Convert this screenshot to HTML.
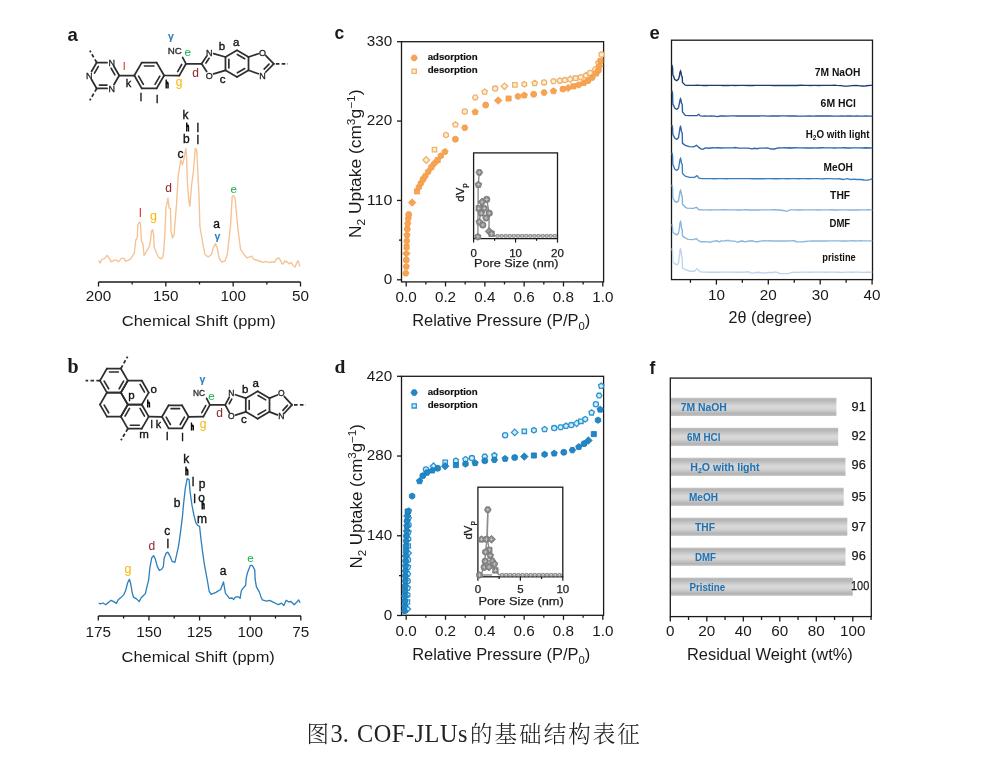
<!DOCTYPE html>
<html><head><meta charset="utf-8"><title>COF-JLUs</title>
<style>html,body{margin:0;padding:0;background:#fff;}body{width:1006px;height:784px;overflow:hidden;}svg{display:block;filter:blur(0.3px);}</style>
</head><body>
<svg width="1006" height="784" viewBox="0 0 1006 784"><text x="67.5" y="40.5" font-size="18.5" text-anchor="start" fill="#1a1a1a" font-weight="bold" font-family="'Liberation Sans', Arial, sans-serif">a</text>
<text x="67.5" y="372.5" font-size="20" text-anchor="start" fill="#1a1a1a" font-weight="bold" font-family="'Liberation Serif', 'Times New Roman', serif">b</text>
<text x="334.5" y="38.9" font-size="17.5" text-anchor="start" fill="#1a1a1a" font-weight="bold" font-family="'Liberation Sans', Arial, sans-serif">c</text>
<text x="334.5" y="372.5" font-size="19.5" text-anchor="start" fill="#1a1a1a" font-weight="bold" font-family="'Liberation Serif', 'Times New Roman', serif">d</text>
<text x="649.5" y="39.1" font-size="18.5" text-anchor="start" fill="#1a1a1a" font-weight="bold" font-family="'Liberation Sans', Arial, sans-serif">e</text>
<text x="649.5" y="374.1" font-size="17.5" text-anchor="start" fill="#1a1a1a" font-weight="bold" font-family="'Liberation Sans', Arial, sans-serif">f</text>
<line x1="98.5" y1="282" x2="300.5" y2="282" stroke="#1a1a1a" stroke-width="1.3"/>
<line x1="98.5" y1="282" x2="98.5" y2="286.5" stroke="#1a1a1a" stroke-width="1.3"/>
<line x1="165.83" y1="282" x2="165.83" y2="286.5" stroke="#1a1a1a" stroke-width="1.3"/>
<line x1="233.17" y1="282" x2="233.17" y2="286.5" stroke="#1a1a1a" stroke-width="1.3"/>
<line x1="300.5" y1="282" x2="300.5" y2="286.5" stroke="#1a1a1a" stroke-width="1.3"/>
<line x1="132.17" y1="282" x2="132.17" y2="284.5" stroke="#1a1a1a" stroke-width="1.3"/>
<line x1="199.5" y1="282" x2="199.5" y2="284.5" stroke="#1a1a1a" stroke-width="1.3"/>
<line x1="266.84" y1="282" x2="266.84" y2="284.5" stroke="#1a1a1a" stroke-width="1.3"/>
<text x="98.5" y="300.5" font-size="14" text-anchor="middle" fill="#1a1a1a" font-weight="normal" font-family="'Liberation Sans', Arial, sans-serif" textLength="25.44" lengthAdjust="spacingAndGlyphs">200</text>
<text x="165.83" y="300.5" font-size="14" text-anchor="middle" fill="#1a1a1a" font-weight="normal" font-family="'Liberation Sans', Arial, sans-serif" textLength="25.44" lengthAdjust="spacingAndGlyphs">150</text>
<text x="233.17" y="300.5" font-size="14" text-anchor="middle" fill="#1a1a1a" font-weight="normal" font-family="'Liberation Sans', Arial, sans-serif" textLength="25.44" lengthAdjust="spacingAndGlyphs">100</text>
<text x="300.5" y="300.5" font-size="14" text-anchor="middle" fill="#1a1a1a" font-weight="normal" font-family="'Liberation Sans', Arial, sans-serif" textLength="16.96" lengthAdjust="spacingAndGlyphs">50</text>
<text x="198.75" y="326" font-size="15.5" text-anchor="middle" fill="#1a1a1a" font-weight="normal" font-family="'Liberation Sans', Arial, sans-serif" textLength="153.9" lengthAdjust="spacingAndGlyphs">Chemical Shift (ppm)</text>
<line x1="98.3" y1="616" x2="301" y2="616" stroke="#1a1a1a" stroke-width="1.3"/>
<line x1="98.3" y1="616" x2="98.3" y2="620.5" stroke="#1a1a1a" stroke-width="1.3"/>
<line x1="148.93" y1="616" x2="148.93" y2="620.5" stroke="#1a1a1a" stroke-width="1.3"/>
<line x1="199.55" y1="616" x2="199.55" y2="620.5" stroke="#1a1a1a" stroke-width="1.3"/>
<line x1="250.18" y1="616" x2="250.18" y2="620.5" stroke="#1a1a1a" stroke-width="1.3"/>
<line x1="300.8" y1="616" x2="300.8" y2="620.5" stroke="#1a1a1a" stroke-width="1.3"/>
<line x1="123.61" y1="616" x2="123.61" y2="618.5" stroke="#1a1a1a" stroke-width="1.3"/>
<line x1="174.24" y1="616" x2="174.24" y2="618.5" stroke="#1a1a1a" stroke-width="1.3"/>
<line x1="224.86" y1="616" x2="224.86" y2="618.5" stroke="#1a1a1a" stroke-width="1.3"/>
<line x1="275.49" y1="616" x2="275.49" y2="618.5" stroke="#1a1a1a" stroke-width="1.3"/>
<text x="98.3" y="636.6" font-size="14" text-anchor="middle" fill="#1a1a1a" font-weight="normal" font-family="'Liberation Sans', Arial, sans-serif" textLength="25.44" lengthAdjust="spacingAndGlyphs">175</text>
<text x="148.93" y="636.6" font-size="14" text-anchor="middle" fill="#1a1a1a" font-weight="normal" font-family="'Liberation Sans', Arial, sans-serif" textLength="25.44" lengthAdjust="spacingAndGlyphs">150</text>
<text x="199.55" y="636.6" font-size="14" text-anchor="middle" fill="#1a1a1a" font-weight="normal" font-family="'Liberation Sans', Arial, sans-serif" textLength="25.44" lengthAdjust="spacingAndGlyphs">125</text>
<text x="250.18" y="636.6" font-size="14" text-anchor="middle" fill="#1a1a1a" font-weight="normal" font-family="'Liberation Sans', Arial, sans-serif" textLength="25.44" lengthAdjust="spacingAndGlyphs">100</text>
<text x="300.8" y="636.6" font-size="14" text-anchor="middle" fill="#1a1a1a" font-weight="normal" font-family="'Liberation Sans', Arial, sans-serif" textLength="16.96" lengthAdjust="spacingAndGlyphs">75</text>
<text x="198.2" y="662.2" font-size="15.5" text-anchor="middle" fill="#1a1a1a" font-weight="normal" font-family="'Liberation Sans', Arial, sans-serif" textLength="153.2" lengthAdjust="spacingAndGlyphs">Chemical Shift (ppm)</text>
<polyline points="98.6,260.4 100.1,263 102.1,259.4 104.7,258.4 107.2,255.3 109.3,258.4 111.3,261.9 113.9,260.4 116.4,259.9 118.5,261.9 121.5,258.4 124.1,258.4 125.6,261.4 127.7,260.4 130.2,259.4 132.8,255.3 134.3,253.3 135.8,240 137.3,238 137.9,224.7 139.4,222.1 140.4,223.7 141.4,241 143,244.1 144,255.3 145,254.3 146.5,251.2 149.1,247.1 150.6,240 151.6,230.8 152.7,229.8 153.7,235.9 154.2,247.1 156.2,252.2 158.3,256.8 160.8,258.9 162.9,257.3 163.9,249.2 164.9,233.9 165.9,208.4 168,198.2 169,207.9 170.5,208.9 171,230.8 172.5,237.9 174.1,234.6 176.6,203.1 178.3,174.9 180,164.9 180.8,159.9 182.4,164.9 184.1,158.3 185.8,148.3 186.6,156.6 187.4,183.2 189.1,203.1 189.9,206.4 191.6,184.8 193.2,173.2 194.6,156.6 195.2,148.3 196.6,150 197.4,163.2 199,196.4 199.9,226.3 202.4,241.2 204.9,254.5 208.2,257 211.5,254.5 213.2,247.9 215.6,243.7 217.3,247.9 219,257.8 221.5,262 224.8,261.2 227.3,254.5 228.9,239.6 230.6,224.6 232.2,196.4 233.6,195.6 235.1,198.1 236.4,213 238,229.6 240.6,249.7 242.6,252.3 244.5,255.2 247.1,257.8 249,257.1 251.6,256.2 253.6,259.1 256.2,260 259.4,261 262.6,262.3 266,261.5 268.5,262.6 271,262 274.9,262 276.2,259.1 278.8,257.8 280.7,260.7 282,263.9 283.3,263.9 284.6,261 287.2,262 289.1,263.9 291,262.3 293,265.2 295.2,267.1 296.8,262.6 298.1,260.7 299.8,266.5" fill="none" stroke="#f6c294" stroke-width="1.35" stroke-linejoin="round"/>
<polyline points="98.6,603 100.4,603.8 103,603 105.7,604.7 108.4,602.5 111.1,600.3 113.8,601.6 116.4,603.4 118.2,599.8 120.9,597.6 123.6,594.9 125.8,590 127.6,582.9 129.4,579.3 130.7,583.8 132.1,591.8 133.4,597.1 136.5,598.9 139.2,601.6 141,598 143.2,595.8 145.4,593.6 146.8,587.3 148.6,580.2 149.9,567.7 151.7,557.9 153.5,555.6 155.3,558.8 157.1,565.9 159.3,570.4 161.5,569.5 163.3,566.8 164.2,557.9 166,553.4 167.8,552.1 170,556.1 172.2,561.4 174.9,562.3 176.7,554.3 178.5,546.3 180.5,532.2 182.4,516.9 183.4,505.4 185.3,488.2 187.2,478.7 189.1,479.6 190.1,492 192,505.4 193.9,515 195.8,522.6 197.7,525.5 199.6,526.4 200.6,536 202.5,551.3 204.4,564.7 207.3,580 209.2,591.4 211.1,594.3 215.9,592.4 220.6,589.5 223.5,581.9 225.4,593.2 227.4,595.6 229.4,598.3 232.2,598 233.7,599.5 235.3,597.1 238.1,596.7 240.1,598.3 241.3,590.8 242.9,588.4 245.7,585.2 246.1,578.9 247.3,573.3 248.9,569.3 250.4,565.3 252,565.3 253.6,567.7 254.8,570.1 255.1,578.9 256.4,586.8 259.2,591.6 260.8,596.4 262.4,599.9 266.4,601.1 269.5,600.3 272.7,601.9 275.9,603.5 278.3,604.7 281.5,603.1 283.8,605.5 286.2,600.3 288.6,601.9 291,601.5 294.2,604.7 296.6,602.3 298.6,599.9 300.1,602.7" fill="none" stroke="#2a7fbd" stroke-width="1.3" stroke-linejoin="round"/>
<line x1="119.2" y1="75.5" x2="114" y2="66.49" stroke="#2e2e2e" stroke-width="1.75" stroke-linecap="round"/>
<line x1="107.1" y1="62.51" x2="96.7" y2="62.51" stroke="#2e2e2e" stroke-width="1.75" stroke-linecap="round"/>
<line x1="96.7" y1="62.51" x2="91.5" y2="71.52" stroke="#2e2e2e" stroke-width="1.75" stroke-linecap="round"/>
<line x1="91.5" y1="79.48" x2="96.7" y2="88.49" stroke="#2e2e2e" stroke-width="1.75" stroke-linecap="round"/>
<line x1="96.7" y1="88.49" x2="107.1" y2="88.49" stroke="#2e2e2e" stroke-width="1.75" stroke-linecap="round"/>
<line x1="114" y1="84.51" x2="119.2" y2="75.5" stroke="#2e2e2e" stroke-width="1.75" stroke-linecap="round"/>
<line x1="114.91" y1="74.86" x2="111.11" y2="68.28" stroke="#2e2e2e" stroke-width="1.66" stroke-linecap="round"/>
<line x1="98.29" y1="66.55" x2="94.49" y2="73.13" stroke="#2e2e2e" stroke-width="1.66" stroke-linecap="round"/>
<line x1="99.4" y1="85.09" x2="107" y2="85.09" stroke="#2e2e2e" stroke-width="1.66" stroke-linecap="round"/>
<line x1="96.7" y1="62.51" x2="89.8" y2="50.6" stroke="#2e2e2e" stroke-width="1.75" stroke-dasharray="3.6,2.3"/>
<line x1="96.7" y1="88.49" x2="89.8" y2="100.4" stroke="#2e2e2e" stroke-width="1.75" stroke-dasharray="3.6,2.3"/>
<text x="111.7" y="65.75" font-size="9" text-anchor="middle" fill="#222" font-weight="normal" font-family="'Liberation Sans', Arial, sans-serif" stroke="#222" stroke-width="0.3">N</text>
<text x="89.2" y="78.74" font-size="9" text-anchor="middle" fill="#222" font-weight="normal" font-family="'Liberation Sans', Arial, sans-serif" stroke="#222" stroke-width="0.3">N</text>
<text x="111.7" y="91.73" font-size="9" text-anchor="middle" fill="#222" font-weight="normal" font-family="'Liberation Sans', Arial, sans-serif" stroke="#222" stroke-width="0.3">N</text>
<line x1="164.1" y1="75.5" x2="156.65" y2="62.6" stroke="#2e2e2e" stroke-width="1.75" stroke-linecap="round"/>
<line x1="156.65" y1="62.6" x2="141.75" y2="62.6" stroke="#2e2e2e" stroke-width="1.75" stroke-linecap="round"/>
<line x1="141.75" y1="62.6" x2="134.3" y2="75.5" stroke="#2e2e2e" stroke-width="1.75" stroke-linecap="round"/>
<line x1="134.3" y1="75.5" x2="141.75" y2="88.4" stroke="#2e2e2e" stroke-width="1.75" stroke-linecap="round"/>
<line x1="141.75" y1="88.4" x2="156.65" y2="88.4" stroke="#2e2e2e" stroke-width="1.75" stroke-linecap="round"/>
<line x1="156.65" y1="88.4" x2="164.1" y2="75.5" stroke="#2e2e2e" stroke-width="1.75" stroke-linecap="round"/>
<line x1="153.97" y1="66" x2="144.43" y2="66" stroke="#2e2e2e" stroke-width="1.66" stroke-linecap="round"/>
<line x1="138.59" y1="76.12" x2="143.35" y2="84.38" stroke="#2e2e2e" stroke-width="1.66" stroke-linecap="round"/>
<line x1="155.05" y1="84.38" x2="159.81" y2="76.12" stroke="#2e2e2e" stroke-width="1.66" stroke-linecap="round"/>
<line x1="119.2" y1="75.5" x2="134.3" y2="75.5" stroke="#2e2e2e" stroke-width="1.75" stroke-linecap="round"/>
<line x1="164.1" y1="75.5" x2="179.3" y2="75.6" stroke="#2e2e2e" stroke-width="1.75" stroke-linecap="round"/>
<line x1="179.3" y1="75.6" x2="186" y2="63.8" stroke="#2e2e2e" stroke-width="1.75" stroke-linecap="round"/>
<line x1="177.68" y1="71.56" x2="181.7" y2="64.48" stroke="#2e2e2e" stroke-width="1.66" stroke-linecap="round"/>
<line x1="186" y1="63.8" x2="182.6" y2="57.4" stroke="#2e2e2e" stroke-width="1.75" stroke-linecap="round"/>
<line x1="186" y1="63.8" x2="201.6" y2="63.8" stroke="#2e2e2e" stroke-width="1.75" stroke-linecap="round"/>
<line x1="201.6" y1="63.8" x2="206.66" y2="56.14" stroke="#2e2e2e" stroke-width="1.75" stroke-linecap="round"/>
<line x1="205.94" y1="63.03" x2="209.09" y2="58.26" stroke="#2e2e2e" stroke-width="1.66" stroke-linecap="round"/>
<line x1="213.62" y1="53.58" x2="225.48" y2="57" stroke="#2e2e2e" stroke-width="1.75" stroke-linecap="round"/>
<line x1="225.48" y1="70.3" x2="213.6" y2="73.95" stroke="#2e2e2e" stroke-width="1.75" stroke-linecap="round"/>
<line x1="206.66" y1="71.46" x2="201.6" y2="63.8" stroke="#2e2e2e" stroke-width="1.75" stroke-linecap="round"/>
<line x1="237" y1="50.35" x2="248.52" y2="57" stroke="#2e2e2e" stroke-width="1.75" stroke-linecap="round"/>
<line x1="248.52" y1="57" x2="248.52" y2="70.3" stroke="#2e2e2e" stroke-width="1.75" stroke-linecap="round"/>
<line x1="248.52" y1="70.3" x2="237" y2="76.95" stroke="#2e2e2e" stroke-width="1.75" stroke-linecap="round"/>
<line x1="237" y1="76.95" x2="225.48" y2="70.3" stroke="#2e2e2e" stroke-width="1.75" stroke-linecap="round"/>
<line x1="225.48" y1="70.3" x2="225.48" y2="57" stroke="#2e2e2e" stroke-width="1.75" stroke-linecap="round"/>
<line x1="225.48" y1="57" x2="237" y2="50.35" stroke="#2e2e2e" stroke-width="1.75" stroke-linecap="round"/>
<line x1="228.88" y1="59.39" x2="228.88" y2="67.91" stroke="#2e2e2e" stroke-width="1.66" stroke-linecap="round"/>
<line x1="237.37" y1="54.49" x2="244.74" y2="58.75" stroke="#2e2e2e" stroke-width="1.66" stroke-linecap="round"/>
<line x1="244.74" y1="68.55" x2="237.37" y2="72.81" stroke="#2e2e2e" stroke-width="1.66" stroke-linecap="round"/>
<line x1="248.52" y1="57" x2="258.24" y2="53.76" stroke="#2e2e2e" stroke-width="1.75" stroke-linecap="round"/>
<line x1="265.81" y1="55.6" x2="273.8" y2="63.8" stroke="#2e2e2e" stroke-width="1.75" stroke-linecap="round"/>
<line x1="273.8" y1="63.8" x2="265.81" y2="72" stroke="#2e2e2e" stroke-width="1.75" stroke-linecap="round"/>
<line x1="258.27" y1="73.76" x2="248.52" y2="70.3" stroke="#2e2e2e" stroke-width="1.75" stroke-linecap="round"/>
<line x1="269.04" y1="64.1" x2="264.17" y2="69.1" stroke="#2e2e2e" stroke-width="1.66" stroke-linecap="round"/>
<line x1="275.8" y1="63.8" x2="288" y2="63.8" stroke="#2e2e2e" stroke-width="1.75" stroke-dasharray="3.6,2.3"/>
<text x="209.2" y="55.54" font-size="9" text-anchor="middle" fill="#222" font-weight="normal" font-family="'Liberation Sans', Arial, sans-serif" stroke="#222" stroke-width="0.3">N</text>
<text x="209.2" y="78.54" font-size="9" text-anchor="middle" fill="#222" font-weight="normal" font-family="'Liberation Sans', Arial, sans-serif" stroke="#222" stroke-width="0.3">O</text>
<text x="262.6" y="55.54" font-size="9" text-anchor="middle" fill="#222" font-weight="normal" font-family="'Liberation Sans', Arial, sans-serif" stroke="#222" stroke-width="0.3">O</text>
<text x="262.6" y="78.54" font-size="9" text-anchor="middle" fill="#222" font-weight="normal" font-family="'Liberation Sans', Arial, sans-serif" stroke="#222" stroke-width="0.3">N</text>
<text x="124.2" y="70.4" font-size="11" text-anchor="middle" fill="#e3262b" font-weight="normal" font-family="'Liberation Sans', Arial, sans-serif" stroke="#e3262b" stroke-width="0.05">l</text>
<text x="128.6" y="87.2" font-size="11" text-anchor="middle" fill="#111" font-weight="normal" font-family="'Liberation Sans', Arial, sans-serif" stroke="#111" stroke-width="0.35">k</text>
<text x="140.9" y="100.8" font-size="11" text-anchor="middle" fill="#111" font-weight="normal" font-family="'Liberation Sans', Arial, sans-serif" stroke="#111" stroke-width="0.35">l</text>
<text x="157.3" y="102.6" font-size="11" text-anchor="middle" fill="#111" font-weight="normal" font-family="'Liberation Sans', Arial, sans-serif" stroke="#111" stroke-width="0.35">l</text>
<text x="167.2" y="88.4" font-size="10" text-anchor="middle" fill="#000" font-weight="bold" font-family="'Liberation Sans', Arial, sans-serif" textLength="3.2" lengthAdjust="spacingAndGlyphs" stroke="#000" stroke-width="1.1">h</text>
<text x="179" y="85.6" font-size="12" text-anchor="middle" fill="#f6b90e" font-weight="normal" font-family="'Liberation Sans', Arial, sans-serif" stroke="#f6b90e" stroke-width="0.05">g</text>
<text x="181.8" y="54.2" font-size="8.3" text-anchor="end" fill="#333" font-weight="normal" font-family="'Liberation Sans', Arial, sans-serif" textLength="14" lengthAdjust="spacingAndGlyphs" stroke="#333" stroke-width="0.35">NC</text>
<text x="171" y="40.2" font-size="10.5" text-anchor="middle" fill="#2a7bc4" font-weight="bold" font-family="'Liberation Sans', Arial, sans-serif" stroke="#2a7bc4" stroke-width="0.05">γ</text>
<text x="187.6" y="55.6" font-size="11.5" text-anchor="middle" fill="#1fb04c" font-weight="normal" font-family="'Liberation Sans', Arial, sans-serif" stroke="#1fb04c" stroke-width="0.05">e</text>
<text x="222" y="50.2" font-size="11.5" text-anchor="middle" fill="#111" font-weight="normal" font-family="'Liberation Sans', Arial, sans-serif" stroke="#111" stroke-width="0.35">b</text>
<text x="236.2" y="45.8" font-size="11.5" text-anchor="middle" fill="#111" font-weight="normal" font-family="'Liberation Sans', Arial, sans-serif" stroke="#111" stroke-width="0.35">a</text>
<text x="222.6" y="83" font-size="11.5" text-anchor="middle" fill="#111" font-weight="normal" font-family="'Liberation Sans', Arial, sans-serif" stroke="#111" stroke-width="0.35">c</text>
<text x="195.5" y="77.4" font-size="12" text-anchor="middle" fill="#8f2a2a" font-weight="normal" font-family="'Liberation Sans', Arial, sans-serif" stroke="#8f2a2a" stroke-width="0.05">d</text>
<line x1="127.8" y1="380.6" x2="120.85" y2="368.56" stroke="#2e2e2e" stroke-width="1.75" stroke-linecap="round"/>
<line x1="120.85" y1="368.56" x2="106.95" y2="368.56" stroke="#2e2e2e" stroke-width="1.75" stroke-linecap="round"/>
<line x1="106.95" y1="368.56" x2="100" y2="380.6" stroke="#2e2e2e" stroke-width="1.75" stroke-linecap="round"/>
<line x1="100" y1="380.6" x2="106.95" y2="392.64" stroke="#2e2e2e" stroke-width="1.75" stroke-linecap="round"/>
<line x1="106.95" y1="392.64" x2="120.85" y2="392.64" stroke="#2e2e2e" stroke-width="1.75" stroke-linecap="round"/>
<line x1="120.85" y1="392.64" x2="127.8" y2="380.6" stroke="#2e2e2e" stroke-width="1.75" stroke-linecap="round"/>
<line x1="148.7" y1="392.6" x2="141.75" y2="380.56" stroke="#2e2e2e" stroke-width="1.75" stroke-linecap="round"/>
<line x1="141.75" y1="380.56" x2="127.85" y2="380.56" stroke="#2e2e2e" stroke-width="1.75" stroke-linecap="round"/>
<line x1="127.85" y1="380.56" x2="120.9" y2="392.6" stroke="#2e2e2e" stroke-width="1.75" stroke-linecap="round"/>
<line x1="120.9" y1="392.6" x2="127.85" y2="404.64" stroke="#2e2e2e" stroke-width="1.75" stroke-linecap="round"/>
<line x1="127.85" y1="404.64" x2="141.75" y2="404.64" stroke="#2e2e2e" stroke-width="1.75" stroke-linecap="round"/>
<line x1="141.75" y1="404.64" x2="148.7" y2="392.6" stroke="#2e2e2e" stroke-width="1.75" stroke-linecap="round"/>
<line x1="127.8" y1="404.6" x2="120.85" y2="392.56" stroke="#2e2e2e" stroke-width="1.75" stroke-linecap="round"/>
<line x1="120.85" y1="392.56" x2="106.95" y2="392.56" stroke="#2e2e2e" stroke-width="1.75" stroke-linecap="round"/>
<line x1="106.95" y1="392.56" x2="100" y2="404.6" stroke="#2e2e2e" stroke-width="1.75" stroke-linecap="round"/>
<line x1="100" y1="404.6" x2="106.95" y2="416.64" stroke="#2e2e2e" stroke-width="1.75" stroke-linecap="round"/>
<line x1="106.95" y1="416.64" x2="120.85" y2="416.64" stroke="#2e2e2e" stroke-width="1.75" stroke-linecap="round"/>
<line x1="120.85" y1="416.64" x2="127.8" y2="404.6" stroke="#2e2e2e" stroke-width="1.75" stroke-linecap="round"/>
<line x1="148.7" y1="416.6" x2="141.75" y2="404.56" stroke="#2e2e2e" stroke-width="1.75" stroke-linecap="round"/>
<line x1="141.75" y1="404.56" x2="127.85" y2="404.56" stroke="#2e2e2e" stroke-width="1.75" stroke-linecap="round"/>
<line x1="127.85" y1="404.56" x2="120.9" y2="416.6" stroke="#2e2e2e" stroke-width="1.75" stroke-linecap="round"/>
<line x1="120.9" y1="416.6" x2="127.85" y2="428.64" stroke="#2e2e2e" stroke-width="1.75" stroke-linecap="round"/>
<line x1="127.85" y1="428.64" x2="141.75" y2="428.64" stroke="#2e2e2e" stroke-width="1.75" stroke-linecap="round"/>
<line x1="141.75" y1="428.64" x2="148.7" y2="416.6" stroke="#2e2e2e" stroke-width="1.75" stroke-linecap="round"/>
<line x1="118.35" y1="371.96" x2="109.45" y2="371.96" stroke="#2e2e2e" stroke-width="1.66" stroke-linecap="round"/>
<line x1="104.2" y1="381.07" x2="108.64" y2="388.77" stroke="#2e2e2e" stroke-width="1.66" stroke-linecap="round"/>
<line x1="119.16" y1="388.77" x2="123.6" y2="381.07" stroke="#2e2e2e" stroke-width="1.66" stroke-linecap="round"/>
<line x1="140.06" y1="384.43" x2="144.5" y2="392.13" stroke="#2e2e2e" stroke-width="1.66" stroke-linecap="round"/>
<line x1="104.2" y1="405.07" x2="108.64" y2="412.77" stroke="#2e2e2e" stroke-width="1.66" stroke-linecap="round"/>
<line x1="130.35" y1="425.24" x2="139.25" y2="425.24" stroke="#2e2e2e" stroke-width="1.66" stroke-linecap="round"/>
<line x1="144.5" y1="416.13" x2="140.06" y2="408.43" stroke="#2e2e2e" stroke-width="1.66" stroke-linecap="round"/>
<line x1="129.54" y1="408.43" x2="125.1" y2="416.13" stroke="#2e2e2e" stroke-width="1.66" stroke-linecap="round"/>
<line x1="120.85" y1="368.56" x2="127.6" y2="356.6" stroke="#2e2e2e" stroke-width="1.75" stroke-dasharray="3.6,2.3"/>
<line x1="100" y1="380.6" x2="85.6" y2="380.6" stroke="#2e2e2e" stroke-width="1.75" stroke-dasharray="3.6,2.3"/>
<line x1="127.85" y1="428.64" x2="121" y2="440.2" stroke="#2e2e2e" stroke-width="1.75" stroke-dasharray="3.6,2.3"/>
<line x1="188.6" y1="416.8" x2="181.95" y2="405.28" stroke="#2e2e2e" stroke-width="1.75" stroke-linecap="round"/>
<line x1="181.95" y1="405.28" x2="168.65" y2="405.28" stroke="#2e2e2e" stroke-width="1.75" stroke-linecap="round"/>
<line x1="168.65" y1="405.28" x2="162" y2="416.8" stroke="#2e2e2e" stroke-width="1.75" stroke-linecap="round"/>
<line x1="162" y1="416.8" x2="168.65" y2="428.32" stroke="#2e2e2e" stroke-width="1.75" stroke-linecap="round"/>
<line x1="168.65" y1="428.32" x2="181.95" y2="428.32" stroke="#2e2e2e" stroke-width="1.75" stroke-linecap="round"/>
<line x1="181.95" y1="428.32" x2="188.6" y2="416.8" stroke="#2e2e2e" stroke-width="1.75" stroke-linecap="round"/>
<line x1="179.56" y1="408.68" x2="171.04" y2="408.68" stroke="#2e2e2e" stroke-width="1.66" stroke-linecap="round"/>
<line x1="166.14" y1="417.17" x2="170.4" y2="424.54" stroke="#2e2e2e" stroke-width="1.66" stroke-linecap="round"/>
<line x1="180.2" y1="424.54" x2="184.46" y2="417.17" stroke="#2e2e2e" stroke-width="1.66" stroke-linecap="round"/>
<line x1="148.7" y1="416.6" x2="162" y2="416.8" stroke="#2e2e2e" stroke-width="1.75" stroke-linecap="round"/>
<line x1="188.6" y1="416.8" x2="203.4" y2="416.6" stroke="#2e2e2e" stroke-width="1.75" stroke-linecap="round"/>
<line x1="203.4" y1="416.6" x2="209.9" y2="404.8" stroke="#2e2e2e" stroke-width="1.75" stroke-linecap="round"/>
<line x1="201.81" y1="412.65" x2="205.71" y2="405.57" stroke="#2e2e2e" stroke-width="1.66" stroke-linecap="round"/>
<line x1="209.9" y1="404.8" x2="206.6" y2="398.3" stroke="#2e2e2e" stroke-width="1.75" stroke-linecap="round"/>
<line x1="209.9" y1="404.8" x2="225.2" y2="404.8" stroke="#2e2e2e" stroke-width="1.75" stroke-linecap="round"/>
<line x1="225.2" y1="404.8" x2="229.35" y2="397.18" stroke="#2e2e2e" stroke-width="1.75" stroke-linecap="round"/>
<line x1="229.2" y1="403.73" x2="231.72" y2="399.1" stroke="#2e2e2e" stroke-width="1.66" stroke-linecap="round"/>
<line x1="235.48" y1="394.75" x2="245.79" y2="398.15" stroke="#2e2e2e" stroke-width="1.75" stroke-linecap="round"/>
<line x1="245.79" y1="411.85" x2="235.5" y2="415.1" stroke="#2e2e2e" stroke-width="1.75" stroke-linecap="round"/>
<line x1="229.37" y1="412.61" x2="225.2" y2="404.8" stroke="#2e2e2e" stroke-width="1.75" stroke-linecap="round"/>
<line x1="257.65" y1="391.3" x2="269.51" y2="398.15" stroke="#2e2e2e" stroke-width="1.75" stroke-linecap="round"/>
<line x1="269.51" y1="398.15" x2="269.51" y2="411.85" stroke="#2e2e2e" stroke-width="1.75" stroke-linecap="round"/>
<line x1="269.51" y1="411.85" x2="257.65" y2="418.7" stroke="#2e2e2e" stroke-width="1.75" stroke-linecap="round"/>
<line x1="257.65" y1="418.7" x2="245.79" y2="411.85" stroke="#2e2e2e" stroke-width="1.75" stroke-linecap="round"/>
<line x1="245.79" y1="411.85" x2="245.79" y2="398.15" stroke="#2e2e2e" stroke-width="1.75" stroke-linecap="round"/>
<line x1="245.79" y1="398.15" x2="257.65" y2="391.3" stroke="#2e2e2e" stroke-width="1.75" stroke-linecap="round"/>
<line x1="249.19" y1="400.62" x2="249.19" y2="409.38" stroke="#2e2e2e" stroke-width="1.66" stroke-linecap="round"/>
<line x1="258.09" y1="395.48" x2="265.68" y2="399.86" stroke="#2e2e2e" stroke-width="1.66" stroke-linecap="round"/>
<line x1="265.68" y1="410.14" x2="258.09" y2="414.52" stroke="#2e2e2e" stroke-width="1.66" stroke-linecap="round"/>
<line x1="269.51" y1="398.15" x2="277.41" y2="395" stroke="#2e2e2e" stroke-width="1.75" stroke-linecap="round"/>
<line x1="284.33" y1="396.55" x2="292" y2="404.8" stroke="#2e2e2e" stroke-width="1.75" stroke-linecap="round"/>
<line x1="292" y1="404.8" x2="284.3" y2="413.23" stroke="#2e2e2e" stroke-width="1.75" stroke-linecap="round"/>
<line x1="277.38" y1="414.86" x2="269.51" y2="411.85" stroke="#2e2e2e" stroke-width="1.75" stroke-linecap="round"/>
<line x1="287.45" y1="405.33" x2="282.87" y2="410.35" stroke="#2e2e2e" stroke-width="1.66" stroke-linecap="round"/>
<line x1="294" y1="404.8" x2="306" y2="404.8" stroke="#2e2e2e" stroke-width="1.75" stroke-dasharray="3.6,2.3"/>
<text x="231.4" y="396.46" font-size="8.5" text-anchor="middle" fill="#222" font-weight="normal" font-family="'Liberation Sans', Arial, sans-serif" stroke="#222" stroke-width="0.3">N</text>
<text x="231.4" y="419.46" font-size="8.5" text-anchor="middle" fill="#222" font-weight="normal" font-family="'Liberation Sans', Arial, sans-serif" stroke="#222" stroke-width="0.3">O</text>
<text x="281.4" y="396.46" font-size="8.5" text-anchor="middle" fill="#222" font-weight="normal" font-family="'Liberation Sans', Arial, sans-serif" stroke="#222" stroke-width="0.3">O</text>
<text x="281.4" y="419.46" font-size="8.5" text-anchor="middle" fill="#222" font-weight="normal" font-family="'Liberation Sans', Arial, sans-serif" stroke="#222" stroke-width="0.3">N</text>
<text x="131.4" y="398.8" font-size="11.5" text-anchor="middle" fill="#111" font-weight="normal" font-family="'Liberation Sans', Arial, sans-serif" stroke="#111" stroke-width="0.35">p</text>
<text x="153.7" y="393.4" font-size="11.5" text-anchor="middle" fill="#111" font-weight="normal" font-family="'Liberation Sans', Arial, sans-serif" stroke="#111" stroke-width="0.35">o</text>
<text x="148.6" y="406.8" font-size="9.5" text-anchor="middle" fill="#000" font-weight="bold" font-family="'Liberation Sans', Arial, sans-serif" textLength="3.2" lengthAdjust="spacingAndGlyphs" stroke="#000" stroke-width="1.1">h</text>
<text x="151.6" y="427.6" font-size="10.5" text-anchor="middle" fill="#111" font-weight="normal" font-family="'Liberation Sans', Arial, sans-serif" stroke="#111" stroke-width="0.35">l</text>
<text x="158.6" y="427.6" font-size="11" text-anchor="middle" fill="#111" font-weight="normal" font-family="'Liberation Sans', Arial, sans-serif" stroke="#111" stroke-width="0.35">k</text>
<text x="144" y="437.8" font-size="11.5" text-anchor="middle" fill="#111" font-weight="normal" font-family="'Liberation Sans', Arial, sans-serif" stroke="#111" stroke-width="0.35">m</text>
<text x="167.4" y="440.4" font-size="11.5" text-anchor="middle" fill="#111" font-weight="normal" font-family="'Liberation Sans', Arial, sans-serif" stroke="#111" stroke-width="0.35">l</text>
<text x="182.6" y="440.6" font-size="11.5" text-anchor="middle" fill="#111" font-weight="normal" font-family="'Liberation Sans', Arial, sans-serif" stroke="#111" stroke-width="0.35">l</text>
<text x="192.4" y="430" font-size="9.5" text-anchor="middle" fill="#000" font-weight="bold" font-family="'Liberation Sans', Arial, sans-serif" textLength="3.2" lengthAdjust="spacingAndGlyphs" stroke="#000" stroke-width="1.1">h</text>
<text x="203" y="427.6" font-size="12" text-anchor="middle" fill="#f6b90e" font-weight="normal" font-family="'Liberation Sans', Arial, sans-serif" stroke="#f6b90e" stroke-width="0.05">g</text>
<text x="205" y="395.8" font-size="8.3" text-anchor="end" fill="#333" font-weight="normal" font-family="'Liberation Sans', Arial, sans-serif" textLength="12" lengthAdjust="spacingAndGlyphs" stroke="#333" stroke-width="0.35">NC</text>
<text x="202.4" y="383.2" font-size="10.5" text-anchor="middle" fill="#2a7bc4" font-weight="bold" font-family="'Liberation Sans', Arial, sans-serif" stroke="#2a7bc4" stroke-width="0.05">γ</text>
<text x="211.4" y="400.2" font-size="11.5" text-anchor="middle" fill="#1fb04c" font-weight="normal" font-family="'Liberation Sans', Arial, sans-serif" stroke="#1fb04c" stroke-width="0.05">e</text>
<text x="219.5" y="416.6" font-size="12" text-anchor="middle" fill="#8f2a2a" font-weight="normal" font-family="'Liberation Sans', Arial, sans-serif" stroke="#8f2a2a" stroke-width="0.05">d</text>
<text x="245.2" y="393.2" font-size="11.5" text-anchor="middle" fill="#111" font-weight="normal" font-family="'Liberation Sans', Arial, sans-serif" stroke="#111" stroke-width="0.35">b</text>
<text x="255.7" y="387.2" font-size="11.5" text-anchor="middle" fill="#111" font-weight="normal" font-family="'Liberation Sans', Arial, sans-serif" stroke="#111" stroke-width="0.35">a</text>
<text x="243.9" y="423" font-size="11.5" text-anchor="middle" fill="#111" font-weight="normal" font-family="'Liberation Sans', Arial, sans-serif" stroke="#111" stroke-width="0.35">c</text>
<text x="140.4" y="216.6" font-size="12" text-anchor="middle" fill="#e3262b" font-weight="normal" font-family="'Liberation Sans', Arial, sans-serif" stroke="#e3262b" stroke-width="0.05">l</text>
<text x="153.4" y="220.2" font-size="12.5" text-anchor="middle" fill="#f6b90e" font-weight="normal" font-family="'Liberation Sans', Arial, sans-serif" stroke="#f6b90e" stroke-width="0.05">g</text>
<text x="168.6" y="192.4" font-size="12" text-anchor="middle" fill="#8f2a2a" font-weight="normal" font-family="'Liberation Sans', Arial, sans-serif" stroke="#8f2a2a" stroke-width="0.05">d</text>
<text x="180.5" y="157.6" font-size="12" text-anchor="middle" fill="#111" font-weight="normal" font-family="'Liberation Sans', Arial, sans-serif" stroke="#111" stroke-width="0.35">c</text>
<text x="186.4" y="143" font-size="12" text-anchor="middle" fill="#111" font-weight="normal" font-family="'Liberation Sans', Arial, sans-serif" stroke="#111" stroke-width="0.35">b</text>
<text x="187.6" y="130.8" font-size="10" text-anchor="middle" fill="#000" font-weight="bold" font-family="'Liberation Sans', Arial, sans-serif" textLength="3.2" lengthAdjust="spacingAndGlyphs" stroke="#000" stroke-width="1.1">h</text>
<text x="185.6" y="118.9" font-size="12" text-anchor="middle" fill="#111" font-weight="normal" font-family="'Liberation Sans', Arial, sans-serif" stroke="#111" stroke-width="0.35">k</text>
<text x="197.9" y="131.6" font-size="12" text-anchor="middle" fill="#111" font-weight="normal" font-family="'Liberation Sans', Arial, sans-serif" stroke="#111" stroke-width="0.35">l</text>
<text x="197.9" y="144.1" font-size="12" text-anchor="middle" fill="#111" font-weight="normal" font-family="'Liberation Sans', Arial, sans-serif" stroke="#111" stroke-width="0.35">l</text>
<text x="216.5" y="228.2" font-size="12" text-anchor="middle" fill="#111" font-weight="normal" font-family="'Liberation Sans', Arial, sans-serif" stroke="#111" stroke-width="0.35">a</text>
<text x="217.3" y="240.2" font-size="10.5" text-anchor="middle" fill="#2a7bc4" font-weight="bold" font-family="'Liberation Sans', Arial, sans-serif" stroke="#2a7bc4" stroke-width="0.05">γ</text>
<text x="233.7" y="192.9" font-size="11.5" text-anchor="middle" fill="#1fb04c" font-weight="normal" font-family="'Liberation Sans', Arial, sans-serif" stroke="#1fb04c" stroke-width="0.05">e</text>
<text x="128" y="572.8" font-size="12.5" text-anchor="middle" fill="#f6b90e" font-weight="normal" font-family="'Liberation Sans', Arial, sans-serif" stroke="#f6b90e" stroke-width="0.05">g</text>
<text x="151.9" y="549.6" font-size="12" text-anchor="middle" fill="#8f2a2a" font-weight="normal" font-family="'Liberation Sans', Arial, sans-serif" stroke="#8f2a2a" stroke-width="0.05">d</text>
<text x="167.8" y="547.7" font-size="12" text-anchor="middle" fill="#111" font-weight="normal" font-family="'Liberation Sans', Arial, sans-serif" stroke="#111" stroke-width="0.35">l</text>
<text x="167.2" y="534.7" font-size="12" text-anchor="middle" fill="#111" font-weight="normal" font-family="'Liberation Sans', Arial, sans-serif" stroke="#111" stroke-width="0.35">c</text>
<text x="177.1" y="506.5" font-size="12" text-anchor="middle" fill="#111" font-weight="normal" font-family="'Liberation Sans', Arial, sans-serif" stroke="#111" stroke-width="0.35">b</text>
<text x="186.2" y="462.5" font-size="12" text-anchor="middle" fill="#111" font-weight="normal" font-family="'Liberation Sans', Arial, sans-serif" stroke="#111" stroke-width="0.35">k</text>
<text x="186.8" y="475" font-size="10" text-anchor="middle" fill="#000" font-weight="bold" font-family="'Liberation Sans', Arial, sans-serif" textLength="3.2" lengthAdjust="spacingAndGlyphs" stroke="#000" stroke-width="1.1">h</text>
<text x="193" y="486.4" font-size="12" text-anchor="middle" fill="#111" font-weight="normal" font-family="'Liberation Sans', Arial, sans-serif" stroke="#111" stroke-width="0.35">l</text>
<text x="202" y="488.4" font-size="12" text-anchor="middle" fill="#111" font-weight="normal" font-family="'Liberation Sans', Arial, sans-serif" stroke="#111" stroke-width="0.35">p</text>
<text x="194.6" y="502.7" font-size="12" text-anchor="middle" fill="#111" font-weight="normal" font-family="'Liberation Sans', Arial, sans-serif" stroke="#111" stroke-width="0.35">l</text>
<text x="201.5" y="501.7" font-size="12" text-anchor="middle" fill="#111" font-weight="normal" font-family="'Liberation Sans', Arial, sans-serif" stroke="#111" stroke-width="0.35">o</text>
<text x="203" y="509.4" font-size="10" text-anchor="middle" fill="#000" font-weight="bold" font-family="'Liberation Sans', Arial, sans-serif" textLength="3.2" lengthAdjust="spacingAndGlyphs" stroke="#000" stroke-width="1.1">h</text>
<text x="202" y="522.7" font-size="12" text-anchor="middle" fill="#111" font-weight="normal" font-family="'Liberation Sans', Arial, sans-serif" stroke="#111" stroke-width="0.35">m</text>
<text x="223" y="575.3" font-size="12" text-anchor="middle" fill="#111" font-weight="normal" font-family="'Liberation Sans', Arial, sans-serif" stroke="#111" stroke-width="0.35">a</text>
<text x="250.5" y="561.5" font-size="11.5" text-anchor="middle" fill="#1fb04c" font-weight="normal" font-family="'Liberation Sans', Arial, sans-serif" stroke="#1fb04c" stroke-width="0.05">e</text>
<rect x="401.5" y="41.7" width="202.1" height="240.2" fill="none" stroke="#1a1a1a" stroke-width="1.3"/>
<line x1="401.5" y1="279.8" x2="397" y2="279.8" stroke="#1a1a1a" stroke-width="1.3"/>
<line x1="401.5" y1="200.44" x2="397" y2="200.44" stroke="#1a1a1a" stroke-width="1.3"/>
<line x1="401.5" y1="121.07" x2="397" y2="121.07" stroke="#1a1a1a" stroke-width="1.3"/>
<line x1="401.5" y1="41.71" x2="397" y2="41.71" stroke="#1a1a1a" stroke-width="1.3"/>
<line x1="401.5" y1="240.12" x2="399" y2="240.12" stroke="#1a1a1a" stroke-width="1.3"/>
<text x="392.3" y="284.1" font-size="14" text-anchor="end" fill="#1a1a1a" font-weight="normal" font-family="'Liberation Sans', Arial, sans-serif" textLength="8.48" lengthAdjust="spacingAndGlyphs">0</text>
<text x="392.3" y="204.74" font-size="14" text-anchor="end" fill="#1a1a1a" font-weight="normal" font-family="'Liberation Sans', Arial, sans-serif" textLength="25.44" lengthAdjust="spacingAndGlyphs">110</text>
<text x="392.3" y="125.37" font-size="14" text-anchor="end" fill="#1a1a1a" font-weight="normal" font-family="'Liberation Sans', Arial, sans-serif" textLength="25.44" lengthAdjust="spacingAndGlyphs">220</text>
<text x="392.3" y="46.01" font-size="14" text-anchor="end" fill="#1a1a1a" font-weight="normal" font-family="'Liberation Sans', Arial, sans-serif" textLength="25.44" lengthAdjust="spacingAndGlyphs">330</text>
<line x1="406.2" y1="281.9" x2="406.2" y2="286.4" stroke="#1a1a1a" stroke-width="1.3"/>
<line x1="445.52" y1="281.9" x2="445.52" y2="286.4" stroke="#1a1a1a" stroke-width="1.3"/>
<line x1="484.84" y1="281.9" x2="484.84" y2="286.4" stroke="#1a1a1a" stroke-width="1.3"/>
<line x1="524.16" y1="281.9" x2="524.16" y2="286.4" stroke="#1a1a1a" stroke-width="1.3"/>
<line x1="563.48" y1="281.9" x2="563.48" y2="286.4" stroke="#1a1a1a" stroke-width="1.3"/>
<line x1="602.8" y1="281.9" x2="602.8" y2="286.4" stroke="#1a1a1a" stroke-width="1.3"/>
<line x1="425.86" y1="281.9" x2="425.86" y2="284.4" stroke="#1a1a1a" stroke-width="1.3"/>
<line x1="465.18" y1="281.9" x2="465.18" y2="284.4" stroke="#1a1a1a" stroke-width="1.3"/>
<line x1="504.5" y1="281.9" x2="504.5" y2="284.4" stroke="#1a1a1a" stroke-width="1.3"/>
<line x1="543.82" y1="281.9" x2="543.82" y2="284.4" stroke="#1a1a1a" stroke-width="1.3"/>
<line x1="583.14" y1="281.9" x2="583.14" y2="284.4" stroke="#1a1a1a" stroke-width="1.3"/>
<text x="406.2" y="301.8" font-size="14" text-anchor="middle" fill="#1a1a1a" font-weight="normal" font-family="'Liberation Sans', Arial, sans-serif" textLength="21.2" lengthAdjust="spacingAndGlyphs">0.0</text>
<text x="445.52" y="301.8" font-size="14" text-anchor="middle" fill="#1a1a1a" font-weight="normal" font-family="'Liberation Sans', Arial, sans-serif" textLength="21.2" lengthAdjust="spacingAndGlyphs">0.2</text>
<text x="484.84" y="301.8" font-size="14" text-anchor="middle" fill="#1a1a1a" font-weight="normal" font-family="'Liberation Sans', Arial, sans-serif" textLength="21.2" lengthAdjust="spacingAndGlyphs">0.4</text>
<text x="524.16" y="301.8" font-size="14" text-anchor="middle" fill="#1a1a1a" font-weight="normal" font-family="'Liberation Sans', Arial, sans-serif" textLength="21.2" lengthAdjust="spacingAndGlyphs">0.6</text>
<text x="563.48" y="301.8" font-size="14" text-anchor="middle" fill="#1a1a1a" font-weight="normal" font-family="'Liberation Sans', Arial, sans-serif" textLength="21.2" lengthAdjust="spacingAndGlyphs">0.8</text>
<text x="602.8" y="301.8" font-size="14" text-anchor="middle" fill="#1a1a1a" font-weight="normal" font-family="'Liberation Sans', Arial, sans-serif" textLength="21.2" lengthAdjust="spacingAndGlyphs">1.0</text>
<text x="412.2" y="325.6" font-size="16" fill="#1a1a1a" font-family="'Liberation Sans', Arial, sans-serif" textLength="178" lengthAdjust="spacingAndGlyphs">Relative Pressure (P/P<tspan font-size="11" dy="4">0</tspan><tspan dy="-4">)</tspan></text>
<text transform="translate(361.2,163.7) rotate(-90)" x="0" y="0" font-size="16" fill="#1a1a1a" font-family="'Liberation Sans', Arial, sans-serif" text-anchor="middle" textLength="148.5" lengthAdjust="spacingAndGlyphs">N<tspan font-size="11" dy="4">2</tspan><tspan dy="-4"> Uptake (cm</tspan><tspan font-size="11" dy="-6">3</tspan><tspan dy="6">g</tspan><tspan font-size="11" dy="-6">−1</tspan><tspan dy="6">)</tspan></text>
<polygon points="429.45,160 426.2,163.25 422.95,160 426.2,156.75" fill="#fdf0cc" stroke="#efb072" stroke-width="1.3"/>
<polygon points="436.71,151.81 432.29,151.81 432.29,147.39 436.71,147.39" fill="#fdf0cc" stroke="#efb072" stroke-width="1.3"/>
<polygon points="448.36,136.37 446,137.73 443.64,136.37 443.64,133.63 446,132.27 448.36,133.63" fill="#fdf0cc" stroke="#efb072" stroke-width="1.3"/>
<polygon points="455.4,121.74 458.12,123.72 457.08,126.91 453.72,126.91 452.68,123.72" fill="#fdf0cc" stroke="#efb072" stroke-width="1.3"/>
<circle cx="464.8" cy="111.4" r="2.6" fill="#fdf0cc" stroke="#efb072" stroke-width="1.3"/>
<polygon points="477.93,97.4 476.56,99.76 473.83,99.76 472.47,97.4 473.83,95.04 476.56,95.04" fill="#fdf0cc" stroke="#efb072" stroke-width="1.3"/>
<polygon points="484.6,88.94 487.32,90.92 486.28,94.11 482.92,94.11 481.88,90.92" fill="#fdf0cc" stroke="#efb072" stroke-width="1.3"/>
<circle cx="495.1" cy="88.6" r="2.6" fill="#fdf0cc" stroke="#efb072" stroke-width="1.3"/>
<polygon points="507.75,86.3 504.5,89.55 501.25,86.3 504.5,83.05" fill="#fdf0cc" stroke="#efb072" stroke-width="1.3"/>
<polygon points="517.11,87.11 512.69,87.11 512.69,82.69 517.11,82.69" fill="#fdf0cc" stroke="#efb072" stroke-width="1.3"/>
<polygon points="526.66,85.66 524.3,87.03 521.94,85.66 521.94,82.94 524.3,81.57 526.66,82.94" fill="#fdf0cc" stroke="#efb072" stroke-width="1.3"/>
<polygon points="534.7,80.34 537.42,82.32 536.38,85.51 533.02,85.51 531.98,82.32" fill="#fdf0cc" stroke="#efb072" stroke-width="1.3"/>
<circle cx="544.1" cy="82.4" r="2.6" fill="#fdf0cc" stroke="#efb072" stroke-width="1.3"/>
<polygon points="556.23,81.3 554.87,83.66 552.13,83.66 550.77,81.3 552.13,78.94 554.87,78.94" fill="#fdf0cc" stroke="#efb072" stroke-width="1.3"/>
<polygon points="559.8,77.84 562.52,79.82 561.48,83.01 558.12,83.01 557.08,79.82" fill="#fdf0cc" stroke="#efb072" stroke-width="1.3"/>
<circle cx="565" cy="80.1" r="2.6" fill="#fdf0cc" stroke="#efb072" stroke-width="1.3"/>
<polygon points="573.45,79.2 570.2,82.45 566.95,79.2 570.2,75.95" fill="#fdf0cc" stroke="#efb072" stroke-width="1.3"/>
<polygon points="577.71,80.41 573.29,80.41 573.29,75.99 577.71,75.99" fill="#fdf0cc" stroke="#efb072" stroke-width="1.3"/>
<polygon points="583.06,78.56 580.7,79.93 578.34,78.56 578.34,75.84 580.7,74.47 583.06,75.84" fill="#fdf0cc" stroke="#efb072" stroke-width="1.3"/>
<polygon points="585.9,72.64 588.62,74.62 587.58,77.81 584.22,77.81 583.18,74.62" fill="#fdf0cc" stroke="#efb072" stroke-width="1.3"/>
<circle cx="590.1" cy="73" r="2.6" fill="#fdf0cc" stroke="#efb072" stroke-width="1.3"/>
<polygon points="598.03,69.2 596.66,71.56 593.93,71.56 592.57,69.2 593.93,66.84 596.66,66.84" fill="#fdf0cc" stroke="#efb072" stroke-width="1.3"/>
<polygon points="598.4,60.14 601.12,62.12 600.08,65.31 596.72,65.31 595.68,62.12" fill="#fdf0cc" stroke="#efb072" stroke-width="1.3"/>
<circle cx="601.6" cy="54.6" r="2.6" fill="#fdf0cc" stroke="#efb072" stroke-width="1.3"/>
<polygon points="408.95,273.3 407.38,276.03 404.23,276.03 402.65,273.3 404.23,270.57 407.38,270.57" fill="#f6a453" stroke="#f19a45" stroke-width="0.8"/>
<polygon points="406.3,263.2 409.44,265.48 408.24,269.17 404.36,269.17 403.16,265.48" fill="#f6a453" stroke="#f19a45" stroke-width="0.8"/>
<circle cx="406.3" cy="260" r="3" fill="#f6a453" stroke="#f19a45" stroke-width="0.8"/>
<polygon points="410.15,253.5 406.4,257.25 402.65,253.5 406.4,249.75" fill="#f6a453" stroke="#f19a45" stroke-width="0.8"/>
<polygon points="409.15,249.55 404.05,249.55 404.05,244.45 409.15,244.45" fill="#f6a453" stroke="#f19a45" stroke-width="0.8"/>
<polygon points="409.53,242.57 406.8,244.15 404.07,242.57 404.07,239.43 406.8,237.85 409.53,239.43" fill="#f6a453" stroke="#f19a45" stroke-width="0.8"/>
<polygon points="407,231.7 410.14,233.98 408.94,237.67 405.06,237.67 403.86,233.98" fill="#f6a453" stroke="#f19a45" stroke-width="0.8"/>
<circle cx="407.3" cy="229" r="3" fill="#f6a453" stroke="#f19a45" stroke-width="0.8"/>
<polygon points="410.85,223.5 409.27,226.23 406.12,226.23 404.55,223.5 406.12,220.77 409.27,220.77" fill="#f6a453" stroke="#f19a45" stroke-width="0.8"/>
<polygon points="408.2,215.2 411.34,217.48 410.14,221.17 406.26,221.17 405.06,217.48" fill="#f6a453" stroke="#f19a45" stroke-width="0.8"/>
<circle cx="408.7" cy="214.5" r="3" fill="#f6a453" stroke="#f19a45" stroke-width="0.8"/>
<polygon points="415.85,202.6 412.1,206.35 408.35,202.6 412.1,198.85" fill="#f6a453" stroke="#f19a45" stroke-width="0.8"/>
<polygon points="419.55,193.95 414.45,193.95 414.45,188.85 419.55,188.85" fill="#f6a453" stroke="#f19a45" stroke-width="0.8"/>
<polygon points="421.63,188.67 418.9,190.25 416.17,188.67 416.17,185.53 418.9,183.95 421.63,185.53" fill="#f6a453" stroke="#f19a45" stroke-width="0.8"/>
<polygon points="421,179.7 424.14,181.98 422.94,185.67 419.06,185.67 417.86,181.98" fill="#f6a453" stroke="#f19a45" stroke-width="0.8"/>
<circle cx="423" cy="179.3" r="3" fill="#f6a453" stroke="#f19a45" stroke-width="0.8"/>
<polygon points="428.45,175.9 426.88,178.63 423.73,178.63 422.15,175.9 423.73,173.17 426.88,173.17" fill="#f6a453" stroke="#f19a45" stroke-width="0.8"/>
<polygon points="428.3,168.2 431.44,170.48 430.24,174.17 426.36,174.17 425.16,170.48" fill="#f6a453" stroke="#f19a45" stroke-width="0.8"/>
<circle cx="431.4" cy="167.3" r="3" fill="#f6a453" stroke="#f19a45" stroke-width="0.8"/>
<polygon points="438.25,163.2 434.5,166.95 430.75,163.2 434.5,159.45" fill="#f6a453" stroke="#f19a45" stroke-width="0.8"/>
<polygon points="440.25,162.55 435.15,162.55 435.15,157.45 440.25,157.45" fill="#f6a453" stroke="#f19a45" stroke-width="0.8"/>
<polygon points="443.53,157.47 440.8,159.05 438.07,157.47 438.07,154.33 440.8,152.75 443.53,154.33" fill="#f6a453" stroke="#f19a45" stroke-width="0.8"/>
<polygon points="445,148.4 448.14,150.68 446.94,154.37 443.06,154.37 441.86,150.68" fill="#f6a453" stroke="#f19a45" stroke-width="0.8"/>
<circle cx="455.4" cy="139.2" r="3" fill="#f6a453" stroke="#f19a45" stroke-width="0.8"/>
<polygon points="467.95,127.7 466.38,130.43 463.23,130.43 461.65,127.7 463.23,124.97 466.38,124.97" fill="#f6a453" stroke="#f19a45" stroke-width="0.8"/>
<polygon points="475.2,108.7 478.34,110.98 477.14,114.67 473.26,114.67 472.06,110.98" fill="#f6a453" stroke="#f19a45" stroke-width="0.8"/>
<circle cx="485.7" cy="105.1" r="3" fill="#f6a453" stroke="#f19a45" stroke-width="0.8"/>
<polygon points="501.95,100.5 498.2,104.25 494.45,100.5 498.2,96.75" fill="#f6a453" stroke="#f19a45" stroke-width="0.8"/>
<polygon points="511.15,101.05 506.05,101.05 506.05,95.95 511.15,95.95" fill="#f6a453" stroke="#f19a45" stroke-width="0.8"/>
<polygon points="520.73,97.98 518,99.55 515.27,97.98 515.27,94.83 518,93.25 520.73,94.83" fill="#f6a453" stroke="#f19a45" stroke-width="0.8"/>
<polygon points="524.3,92 527.44,94.28 526.24,97.97 522.36,97.97 521.16,94.28" fill="#f6a453" stroke="#f19a45" stroke-width="0.8"/>
<circle cx="533.7" cy="94.3" r="3" fill="#f6a453" stroke="#f19a45" stroke-width="0.8"/>
<polygon points="547.25,92.6 545.68,95.33 542.52,95.33 540.95,92.6 542.52,89.87 545.68,89.87" fill="#f6a453" stroke="#f19a45" stroke-width="0.8"/>
<polygon points="553.5,87.8 556.64,90.08 555.44,93.77 551.56,93.77 550.36,90.08" fill="#f6a453" stroke="#f19a45" stroke-width="0.8"/>
<circle cx="562.9" cy="89.1" r="3" fill="#f6a453" stroke="#f19a45" stroke-width="0.8"/>
<polygon points="571.85,88 568.1,91.75 564.35,88 568.1,84.25" fill="#f6a453" stroke="#f19a45" stroke-width="0.8"/>
<polygon points="575.95,88.85 570.85,88.85 570.85,83.75 575.95,83.75" fill="#f6a453" stroke="#f19a45" stroke-width="0.8"/>
<polygon points="581.33,86.48 578.6,88.05 575.87,86.48 575.87,83.33 578.6,81.75 581.33,83.33" fill="#f6a453" stroke="#f19a45" stroke-width="0.8"/>
<polygon points="583.8,79.5 586.94,81.78 585.74,85.47 581.86,85.47 580.66,81.78" fill="#f6a453" stroke="#f19a45" stroke-width="0.8"/>
<circle cx="588" cy="80.7" r="3" fill="#f6a453" stroke="#f19a45" stroke-width="0.8"/>
<polygon points="595.35,77.6 593.78,80.33 590.62,80.33 589.05,77.6 590.62,74.87 593.78,74.87" fill="#f6a453" stroke="#f19a45" stroke-width="0.8"/>
<polygon points="596.3,70.1 599.44,72.38 598.24,76.07 594.36,76.07 593.16,72.38" fill="#f6a453" stroke="#f19a45" stroke-width="0.8"/>
<circle cx="598.4" cy="70.3" r="3" fill="#f6a453" stroke="#f19a45" stroke-width="0.8"/>
<polygon points="603.25,66.1 599.5,69.85 595.75,66.1 599.5,62.35" fill="#f6a453" stroke="#f19a45" stroke-width="0.8"/>
<polygon points="603.05,63.45 597.95,63.45 597.95,58.35 603.05,58.35" fill="#f6a453" stroke="#f19a45" stroke-width="0.8"/>
<polygon points="417.35,57.9 415.77,60.63 412.62,60.63 411.05,57.9 412.62,55.17 415.77,55.17" fill="#f6a453" stroke="#f19a45" stroke-width="0.8"/>
<polygon points="416.32,73.32 412.08,73.32 412.08,69.08 416.32,69.08" fill="#fdf0cc" stroke="#efb072" stroke-width="1.3"/>
<text x="427.7" y="60.3" font-size="8.4" text-anchor="start" fill="#111" font-weight="bold" font-family="'Liberation Sans', Arial, sans-serif" textLength="50" lengthAdjust="spacingAndGlyphs" stroke="#111" stroke-width="0.15">adsorption</text>
<text x="427.7" y="73.4" font-size="8.4" text-anchor="start" fill="#111" font-weight="bold" font-family="'Liberation Sans', Arial, sans-serif" textLength="50" lengthAdjust="spacingAndGlyphs" stroke="#111" stroke-width="0.15">desorption</text>
<rect x="401.5" y="376.3" width="202.1" height="239" fill="none" stroke="#1a1a1a" stroke-width="1.3"/>
<line x1="401.5" y1="615.5" x2="397" y2="615.5" stroke="#1a1a1a" stroke-width="1.3"/>
<line x1="401.5" y1="535.77" x2="397" y2="535.77" stroke="#1a1a1a" stroke-width="1.3"/>
<line x1="401.5" y1="456.04" x2="397" y2="456.04" stroke="#1a1a1a" stroke-width="1.3"/>
<line x1="401.5" y1="376.31" x2="397" y2="376.31" stroke="#1a1a1a" stroke-width="1.3"/>
<line x1="401.5" y1="575.63" x2="399" y2="575.63" stroke="#1a1a1a" stroke-width="1.3"/>
<text x="392.3" y="619.8" font-size="14" text-anchor="end" fill="#1a1a1a" font-weight="normal" font-family="'Liberation Sans', Arial, sans-serif" textLength="8.48" lengthAdjust="spacingAndGlyphs">0</text>
<text x="392.3" y="540.07" font-size="14" text-anchor="end" fill="#1a1a1a" font-weight="normal" font-family="'Liberation Sans', Arial, sans-serif" textLength="25.44" lengthAdjust="spacingAndGlyphs">140</text>
<text x="392.3" y="460.34" font-size="14" text-anchor="end" fill="#1a1a1a" font-weight="normal" font-family="'Liberation Sans', Arial, sans-serif" textLength="25.44" lengthAdjust="spacingAndGlyphs">280</text>
<text x="392.3" y="380.61" font-size="14" text-anchor="end" fill="#1a1a1a" font-weight="normal" font-family="'Liberation Sans', Arial, sans-serif" textLength="25.44" lengthAdjust="spacingAndGlyphs">420</text>
<line x1="406.2" y1="615.3" x2="406.2" y2="619.8" stroke="#1a1a1a" stroke-width="1.3"/>
<line x1="445.52" y1="615.3" x2="445.52" y2="619.8" stroke="#1a1a1a" stroke-width="1.3"/>
<line x1="484.84" y1="615.3" x2="484.84" y2="619.8" stroke="#1a1a1a" stroke-width="1.3"/>
<line x1="524.16" y1="615.3" x2="524.16" y2="619.8" stroke="#1a1a1a" stroke-width="1.3"/>
<line x1="563.48" y1="615.3" x2="563.48" y2="619.8" stroke="#1a1a1a" stroke-width="1.3"/>
<line x1="602.8" y1="615.3" x2="602.8" y2="619.8" stroke="#1a1a1a" stroke-width="1.3"/>
<line x1="425.86" y1="615.3" x2="425.86" y2="617.8" stroke="#1a1a1a" stroke-width="1.3"/>
<line x1="465.18" y1="615.3" x2="465.18" y2="617.8" stroke="#1a1a1a" stroke-width="1.3"/>
<line x1="504.5" y1="615.3" x2="504.5" y2="617.8" stroke="#1a1a1a" stroke-width="1.3"/>
<line x1="543.82" y1="615.3" x2="543.82" y2="617.8" stroke="#1a1a1a" stroke-width="1.3"/>
<line x1="583.14" y1="615.3" x2="583.14" y2="617.8" stroke="#1a1a1a" stroke-width="1.3"/>
<text x="406.2" y="635.8" font-size="14" text-anchor="middle" fill="#1a1a1a" font-weight="normal" font-family="'Liberation Sans', Arial, sans-serif" textLength="21.2" lengthAdjust="spacingAndGlyphs">0.0</text>
<text x="445.52" y="635.8" font-size="14" text-anchor="middle" fill="#1a1a1a" font-weight="normal" font-family="'Liberation Sans', Arial, sans-serif" textLength="21.2" lengthAdjust="spacingAndGlyphs">0.2</text>
<text x="484.84" y="635.8" font-size="14" text-anchor="middle" fill="#1a1a1a" font-weight="normal" font-family="'Liberation Sans', Arial, sans-serif" textLength="21.2" lengthAdjust="spacingAndGlyphs">0.4</text>
<text x="524.16" y="635.8" font-size="14" text-anchor="middle" fill="#1a1a1a" font-weight="normal" font-family="'Liberation Sans', Arial, sans-serif" textLength="21.2" lengthAdjust="spacingAndGlyphs">0.6</text>
<text x="563.48" y="635.8" font-size="14" text-anchor="middle" fill="#1a1a1a" font-weight="normal" font-family="'Liberation Sans', Arial, sans-serif" textLength="21.2" lengthAdjust="spacingAndGlyphs">0.8</text>
<text x="602.8" y="635.8" font-size="14" text-anchor="middle" fill="#1a1a1a" font-weight="normal" font-family="'Liberation Sans', Arial, sans-serif" textLength="21.2" lengthAdjust="spacingAndGlyphs">1.0</text>
<text x="412.2" y="660.4" font-size="16" fill="#1a1a1a" font-family="'Liberation Sans', Arial, sans-serif" textLength="178" lengthAdjust="spacingAndGlyphs">Relative Pressure (P/P<tspan font-size="11" dy="4">0</tspan><tspan dy="-4">)</tspan></text>
<text transform="translate(361.6,496.3) rotate(-90)" x="0" y="0" font-size="16" fill="#1a1a1a" font-family="'Liberation Sans', Arial, sans-serif" text-anchor="middle" textLength="144.5" lengthAdjust="spacingAndGlyphs">N<tspan font-size="11" dy="4">2</tspan><tspan dy="-4"> Uptake (cm</tspan><tspan font-size="11" dy="-6">3</tspan><tspan dy="6">g</tspan><tspan font-size="11" dy="-6">−1</tspan><tspan dy="6">)</tspan></text>
<polygon points="410.55,609 407.3,612.25 404.05,609 407.3,605.75" fill="#cdf1fb" stroke="#2e92cf" stroke-width="1.3"/>
<polygon points="409.61,604.21 405.19,604.21 405.19,599.79 409.61,599.79" fill="#cdf1fb" stroke="#2e92cf" stroke-width="1.3"/>
<polygon points="409.86,596.37 407.5,597.73 405.14,596.37 405.14,593.63 407.5,592.27 409.86,593.63" fill="#cdf1fb" stroke="#2e92cf" stroke-width="1.3"/>
<polygon points="407.6,585.14 410.32,587.12 409.28,590.31 405.92,590.31 404.88,587.12" fill="#cdf1fb" stroke="#2e92cf" stroke-width="1.3"/>
<circle cx="407.7" cy="581" r="2.6" fill="#cdf1fb" stroke="#2e92cf" stroke-width="1.3"/>
<polygon points="410.53,574 409.17,576.36 406.44,576.36 405.07,574 406.44,571.64 409.17,571.64" fill="#cdf1fb" stroke="#2e92cf" stroke-width="1.3"/>
<polygon points="407.9,564.14 410.62,566.12 409.58,569.31 406.22,569.31 405.18,566.12" fill="#cdf1fb" stroke="#2e92cf" stroke-width="1.3"/>
<circle cx="408" cy="560" r="2.6" fill="#cdf1fb" stroke="#2e92cf" stroke-width="1.3"/>
<polygon points="411.35,553 408.1,556.25 404.85,553 408.1,549.75" fill="#cdf1fb" stroke="#2e92cf" stroke-width="1.3"/>
<polygon points="410.41,548.21 405.99,548.21 405.99,543.79 410.41,543.79" fill="#cdf1fb" stroke="#2e92cf" stroke-width="1.3"/>
<polygon points="410.66,540.37 408.3,541.73 405.94,540.37 405.94,537.63 408.3,536.27 410.66,537.63" fill="#cdf1fb" stroke="#2e92cf" stroke-width="1.3"/>
<polygon points="408.4,529.14 411.12,531.12 410.08,534.31 406.72,534.31 405.68,531.12" fill="#cdf1fb" stroke="#2e92cf" stroke-width="1.3"/>
<circle cx="408.5" cy="525" r="2.6" fill="#cdf1fb" stroke="#2e92cf" stroke-width="1.3"/>
<polygon points="411.33,518 409.97,520.36 407.24,520.36 405.87,518 407.24,515.64 409.97,515.64" fill="#cdf1fb" stroke="#2e92cf" stroke-width="1.3"/>
<polygon points="408.7,508.14 411.42,510.12 410.38,513.31 407.02,513.31 405.98,510.12" fill="#cdf1fb" stroke="#2e92cf" stroke-width="1.3"/>
<circle cx="426" cy="469.4" r="2.6" fill="#cdf1fb" stroke="#2e92cf" stroke-width="1.3"/>
<polygon points="436.75,466.2 433.5,469.45 430.25,466.2 433.5,462.95" fill="#cdf1fb" stroke="#2e92cf" stroke-width="1.3"/>
<polygon points="447.41,464.51 442.99,464.51 442.99,460.09 447.41,460.09" fill="#cdf1fb" stroke="#2e92cf" stroke-width="1.3"/>
<polygon points="458.26,462.17 455.9,463.53 453.54,462.17 453.54,459.44 455.9,458.07 458.26,459.44" fill="#cdf1fb" stroke="#2e92cf" stroke-width="1.3"/>
<polygon points="465.5,456.44 468.22,458.42 467.18,461.61 463.82,461.61 462.78,458.42" fill="#cdf1fb" stroke="#2e92cf" stroke-width="1.3"/>
<circle cx="471.9" cy="458.1" r="2.6" fill="#cdf1fb" stroke="#2e92cf" stroke-width="1.3"/>
<polygon points="487.53,456.6 486.17,458.96 483.44,458.96 482.07,456.6 483.44,454.24 486.17,454.24" fill="#cdf1fb" stroke="#2e92cf" stroke-width="1.3"/>
<polygon points="494.4,452.64 497.12,454.62 496.08,457.81 492.72,457.81 491.68,454.62" fill="#cdf1fb" stroke="#2e92cf" stroke-width="1.3"/>
<circle cx="505.1" cy="435.2" r="2.6" fill="#cdf1fb" stroke="#2e92cf" stroke-width="1.3"/>
<polygon points="517.95,432.4 514.7,435.65 511.45,432.4 514.7,429.15" fill="#cdf1fb" stroke="#2e92cf" stroke-width="1.3"/>
<polygon points="526.51,433.51 522.09,433.51 522.09,429.09 526.51,429.09" fill="#cdf1fb" stroke="#2e92cf" stroke-width="1.3"/>
<polygon points="536.26,431.67 533.9,433.03 531.54,431.67 531.54,428.94 533.9,427.57 536.26,428.94" fill="#cdf1fb" stroke="#2e92cf" stroke-width="1.3"/>
<polygon points="544.6,426.54 547.32,428.52 546.28,431.71 542.92,431.71 541.88,428.52" fill="#cdf1fb" stroke="#2e92cf" stroke-width="1.3"/>
<circle cx="554.2" cy="428.1" r="2.6" fill="#cdf1fb" stroke="#2e92cf" stroke-width="1.3"/>
<polygon points="563.33,427.3 561.97,429.66 559.24,429.66 557.87,427.3 559.24,424.94 561.97,424.94" fill="#cdf1fb" stroke="#2e92cf" stroke-width="1.3"/>
<polygon points="566,423.14 568.72,425.12 567.68,428.31 564.32,428.31 563.28,425.12" fill="#cdf1fb" stroke="#2e92cf" stroke-width="1.3"/>
<circle cx="571.3" cy="425.1" r="2.6" fill="#cdf1fb" stroke="#2e92cf" stroke-width="1.3"/>
<polygon points="579.95,423.4 576.7,426.65 573.45,423.4 576.7,420.15" fill="#cdf1fb" stroke="#2e92cf" stroke-width="1.3"/>
<polygon points="583.11,423.51 578.69,423.51 578.69,419.09 583.11,419.09" fill="#cdf1fb" stroke="#2e92cf" stroke-width="1.3"/>
<polygon points="587.56,420.56 585.2,421.93 582.84,420.56 582.84,417.83 585.2,416.47 587.56,417.83" fill="#cdf1fb" stroke="#2e92cf" stroke-width="1.3"/>
<polygon points="591.6,409.84 594.32,411.82 593.28,415.01 589.92,415.01 588.88,411.82" fill="#cdf1fb" stroke="#2e92cf" stroke-width="1.3"/>
<circle cx="595.9" cy="404.2" r="2.6" fill="#cdf1fb" stroke="#2e92cf" stroke-width="1.3"/>
<polygon points="601.83,395.6 600.47,397.96 597.74,397.96 596.37,395.6 597.74,393.24 600.47,393.24" fill="#cdf1fb" stroke="#2e92cf" stroke-width="1.3"/>
<polygon points="601.2,383.14 603.92,385.12 602.88,388.31 599.52,388.31 598.48,385.12" fill="#cdf1fb" stroke="#2e92cf" stroke-width="1.3"/>
<polygon points="407.75,611 406.18,613.73 403.03,613.73 401.45,611 403.03,608.27 406.18,608.27" fill="#2287c6" stroke="#1b78b5" stroke-width="0.8"/>
<polygon points="404.8,602.7 407.94,604.98 406.74,608.67 402.86,608.67 401.66,604.98" fill="#2287c6" stroke="#1b78b5" stroke-width="0.8"/>
<circle cx="404.9" cy="601" r="3" fill="#2287c6" stroke="#1b78b5" stroke-width="0.8"/>
<polygon points="408.75,596 405,599.75 401.25,596 405,592.25" fill="#2287c6" stroke="#1b78b5" stroke-width="0.8"/>
<polygon points="407.65,593.55 402.55,593.55 402.55,588.45 407.65,588.45" fill="#2287c6" stroke="#1b78b5" stroke-width="0.8"/>
<polygon points="407.93,587.58 405.2,589.15 402.47,587.58 402.47,584.42 405.2,582.85 407.93,584.42" fill="#2287c6" stroke="#1b78b5" stroke-width="0.8"/>
<polygon points="405.3,577.7 408.44,579.98 407.24,583.67 403.36,583.67 402.16,579.98" fill="#2287c6" stroke="#1b78b5" stroke-width="0.8"/>
<circle cx="405.4" cy="576" r="3" fill="#2287c6" stroke="#1b78b5" stroke-width="0.8"/>
<polygon points="408.65,571 407.07,573.73 403.93,573.73 402.35,571 403.93,568.27 407.07,568.27" fill="#2287c6" stroke="#1b78b5" stroke-width="0.8"/>
<polygon points="405.6,562.7 408.74,564.98 407.54,568.67 403.66,568.67 402.46,564.98" fill="#2287c6" stroke="#1b78b5" stroke-width="0.8"/>
<circle cx="405.7" cy="561" r="3" fill="#2287c6" stroke="#1b78b5" stroke-width="0.8"/>
<polygon points="409.55,556 405.8,559.75 402.05,556 405.8,552.25" fill="#2287c6" stroke="#1b78b5" stroke-width="0.8"/>
<polygon points="408.45,553.55 403.35,553.55 403.35,548.45 408.45,548.45" fill="#2287c6" stroke="#1b78b5" stroke-width="0.8"/>
<polygon points="408.73,547.58 406,549.15 403.27,547.58 403.27,544.42 406,542.85 408.73,544.42" fill="#2287c6" stroke="#1b78b5" stroke-width="0.8"/>
<polygon points="406.2,537.7 409.34,539.98 408.14,543.67 404.26,543.67 403.06,539.98" fill="#2287c6" stroke="#1b78b5" stroke-width="0.8"/>
<circle cx="406.4" cy="536" r="3" fill="#2287c6" stroke="#1b78b5" stroke-width="0.8"/>
<polygon points="409.75,531 408.18,533.73 405.03,533.73 403.45,531 405.03,528.27 408.18,528.27" fill="#2287c6" stroke="#1b78b5" stroke-width="0.8"/>
<polygon points="406.8,522.7 409.94,524.98 408.74,528.67 404.86,528.67 403.66,524.98" fill="#2287c6" stroke="#1b78b5" stroke-width="0.8"/>
<circle cx="407" cy="521" r="3" fill="#2287c6" stroke="#1b78b5" stroke-width="0.8"/>
<polygon points="411.05,516 407.3,519.75 403.55,516 407.3,512.25" fill="#2287c6" stroke="#1b78b5" stroke-width="0.8"/>
<polygon points="410.15,514.05 405.05,514.05 405.05,508.95 410.15,508.95" fill="#2287c6" stroke="#1b78b5" stroke-width="0.8"/>
<polygon points="414.83,497.68 412.1,499.25 409.37,497.68 409.37,494.53 412.1,492.95 414.83,494.53" fill="#2287c6" stroke="#1b78b5" stroke-width="0.8"/>
<polygon points="419.6,477.8 422.74,480.08 421.54,483.77 417.66,483.77 416.46,480.08" fill="#2287c6" stroke="#1b78b5" stroke-width="0.8"/>
<circle cx="422.8" cy="475.8" r="3" fill="#2287c6" stroke="#1b78b5" stroke-width="0.8"/>
<polygon points="430.25,472.6 428.68,475.33 425.53,475.33 423.95,472.6 425.53,469.87 428.68,469.87" fill="#2287c6" stroke="#1b78b5" stroke-width="0.8"/>
<polygon points="432.4,467.1 435.54,469.38 434.34,473.07 430.46,473.07 429.26,469.38" fill="#2287c6" stroke="#1b78b5" stroke-width="0.8"/>
<circle cx="437.7" cy="468.3" r="3" fill="#2287c6" stroke="#1b78b5" stroke-width="0.8"/>
<polygon points="448.95,466.2 445.2,469.95 441.45,466.2 445.2,462.45" fill="#2287c6" stroke="#1b78b5" stroke-width="0.8"/>
<polygon points="458.45,467.65 453.35,467.65 453.35,462.55 458.45,462.55" fill="#2287c6" stroke="#1b78b5" stroke-width="0.8"/>
<polygon points="468.23,465.57 465.5,467.15 462.77,465.57 462.77,462.43 465.5,460.85 468.23,462.43" fill="#2287c6" stroke="#1b78b5" stroke-width="0.8"/>
<polygon points="475.1,459.7 478.24,461.98 477.04,465.67 473.16,465.67 471.96,461.98" fill="#2287c6" stroke="#1b78b5" stroke-width="0.8"/>
<circle cx="484.8" cy="460.8" r="3" fill="#2287c6" stroke="#1b78b5" stroke-width="0.8"/>
<polygon points="497.55,459.8 495.97,462.53 492.82,462.53 491.25,459.8 492.82,457.07 495.97,457.07" fill="#2287c6" stroke="#1b78b5" stroke-width="0.8"/>
<polygon points="505.1,455.4 508.24,457.68 507.04,461.37 503.16,461.37 501.96,457.68" fill="#2287c6" stroke="#1b78b5" stroke-width="0.8"/>
<circle cx="514.7" cy="457.6" r="3" fill="#2287c6" stroke="#1b78b5" stroke-width="0.8"/>
<polygon points="528.05,456.6 524.3,460.35 520.55,456.6 524.3,452.85" fill="#2287c6" stroke="#1b78b5" stroke-width="0.8"/>
<polygon points="536.45,458.05 531.35,458.05 531.35,452.95 536.45,452.95" fill="#2287c6" stroke="#1b78b5" stroke-width="0.8"/>
<polygon points="547.33,455.97 544.6,457.55 541.87,455.97 541.87,452.82 544.6,451.25 547.33,452.82" fill="#2287c6" stroke="#1b78b5" stroke-width="0.8"/>
<polygon points="554.2,450.1 557.34,452.38 556.14,456.07 552.26,456.07 551.06,452.38" fill="#2287c6" stroke="#1b78b5" stroke-width="0.8"/>
<circle cx="563.8" cy="452.3" r="3" fill="#2287c6" stroke="#1b78b5" stroke-width="0.8"/>
<polygon points="575.55,450.1 573.98,452.83 570.82,452.83 569.25,450.1 570.82,447.37 573.98,447.37" fill="#2287c6" stroke="#1b78b5" stroke-width="0.8"/>
<polygon points="578.8,443.6 581.94,445.88 580.74,449.57 576.86,449.57 575.66,445.88" fill="#2287c6" stroke="#1b78b5" stroke-width="0.8"/>
<circle cx="584.1" cy="443.7" r="3" fill="#2287c6" stroke="#1b78b5" stroke-width="0.8"/>
<polygon points="592.15,440.5 588.4,444.25 584.65,440.5 588.4,436.75" fill="#2287c6" stroke="#1b78b5" stroke-width="0.8"/>
<polygon points="596.35,436.65 591.25,436.65 591.25,431.55 596.35,431.55" fill="#2287c6" stroke="#1b78b5" stroke-width="0.8"/>
<polygon points="600.73,421.77 598,423.35 595.27,421.77 595.27,418.62 598,417.05 600.73,418.62" fill="#2287c6" stroke="#1b78b5" stroke-width="0.8"/>
<polygon points="600.2,406.2 603.34,408.48 602.14,412.17 598.26,412.17 597.06,408.48" fill="#2287c6" stroke="#1b78b5" stroke-width="0.8"/>
<polygon points="417.35,392.6 415.77,395.33 412.62,395.33 411.05,392.6 412.62,389.87 415.77,389.87" fill="#2287c6" stroke="#1b78b5" stroke-width="0.8"/>
<polygon points="416.32,408.02 412.08,408.02 412.08,403.78 416.32,403.78" fill="#cdf1fb" stroke="#2e92cf" stroke-width="1.3"/>
<text x="427.7" y="395" font-size="8.4" text-anchor="start" fill="#111" font-weight="bold" font-family="'Liberation Sans', Arial, sans-serif" textLength="50" lengthAdjust="spacingAndGlyphs" stroke="#111" stroke-width="0.15">adsorption</text>
<text x="427.7" y="408.1" font-size="8.4" text-anchor="start" fill="#111" font-weight="bold" font-family="'Liberation Sans', Arial, sans-serif" textLength="50" lengthAdjust="spacingAndGlyphs" stroke="#111" stroke-width="0.15">desorption</text>
<rect x="473.6" y="152.9" width="83.9" height="85.7" fill="#fff" stroke="#1a1a1a" stroke-width="1.3"/>
<line x1="473.6" y1="238.6" x2="473.6" y2="242.6" stroke="#1a1a1a" stroke-width="1.2"/>
<line x1="515.55" y1="238.6" x2="515.55" y2="242.6" stroke="#1a1a1a" stroke-width="1.2"/>
<line x1="557.5" y1="238.6" x2="557.5" y2="242.6" stroke="#1a1a1a" stroke-width="1.2"/>
<line x1="494.58" y1="238.6" x2="494.58" y2="240.8" stroke="#1a1a1a" stroke-width="1.2"/>
<line x1="536.52" y1="238.6" x2="536.52" y2="240.8" stroke="#1a1a1a" stroke-width="1.2"/>
<text x="473.6" y="256.6" font-size="11.5" text-anchor="middle" fill="#1a1a1a" font-weight="normal" font-family="'Liberation Sans', Arial, sans-serif" stroke="#1a1a1a" stroke-width="0.25">0</text>
<text x="515.55" y="256.6" font-size="11.5" text-anchor="middle" fill="#1a1a1a" font-weight="normal" font-family="'Liberation Sans', Arial, sans-serif" stroke="#1a1a1a" stroke-width="0.25">10</text>
<text x="557.5" y="256.6" font-size="11.5" text-anchor="middle" fill="#1a1a1a" font-weight="normal" font-family="'Liberation Sans', Arial, sans-serif" stroke="#1a1a1a" stroke-width="0.25">20</text>
<text x="474.1" y="267.2" font-size="11.5" text-anchor="start" fill="#1a1a1a" font-weight="normal" font-family="'Liberation Sans', Arial, sans-serif" textLength="84.4" lengthAdjust="spacingAndGlyphs" stroke="#1a1a1a" stroke-width="0.25">Pore Size (nm)</text>
<text transform="translate(464.2,192.5) rotate(-90)" x="0" y="0" font-size="11.5" fill="#1a1a1a" stroke="#1a1a1a" stroke-width="0.3" font-family="'Liberation Sans', Arial, sans-serif" text-anchor="middle">dV<tspan font-size="8" dy="3">p</tspan></text>
<polyline points="477.9,236.8 478.2,184.7 479.3,172.4" fill="none" stroke="#8c8c8c" stroke-width="1.4" stroke-linejoin="miter"/>
<polyline points="479.3,222 482,202 486.7,199.4 489.2,213.2 488.9,231.4 491.6,233.8 494.5,235.8 557,235.8" fill="none" stroke="#8c8c8c" stroke-width="1.4" stroke-linejoin="miter"/>
<polygon points="498.86,237.16 496.14,237.16 496.14,234.44 498.86,234.44" fill="#d0d0d0" stroke="#8a8a8a" stroke-width="0.9"/>
<polygon points="502.96,237.16 500.24,237.16 500.24,234.44 502.96,234.44" fill="#d0d0d0" stroke="#8a8a8a" stroke-width="0.9"/>
<polygon points="507.06,237.16 504.34,237.16 504.34,234.44 507.06,234.44" fill="#d0d0d0" stroke="#8a8a8a" stroke-width="0.9"/>
<polygon points="511.16,237.16 508.44,237.16 508.44,234.44 511.16,234.44" fill="#d0d0d0" stroke="#8a8a8a" stroke-width="0.9"/>
<polygon points="515.26,237.16 512.54,237.16 512.54,234.44 515.26,234.44" fill="#d0d0d0" stroke="#8a8a8a" stroke-width="0.9"/>
<polygon points="519.36,237.16 516.64,237.16 516.64,234.44 519.36,234.44" fill="#d0d0d0" stroke="#8a8a8a" stroke-width="0.9"/>
<polygon points="523.46,237.16 520.74,237.16 520.74,234.44 523.46,234.44" fill="#d0d0d0" stroke="#8a8a8a" stroke-width="0.9"/>
<polygon points="527.56,237.16 524.84,237.16 524.84,234.44 527.56,234.44" fill="#d0d0d0" stroke="#8a8a8a" stroke-width="0.9"/>
<polygon points="531.66,237.16 528.94,237.16 528.94,234.44 531.66,234.44" fill="#d0d0d0" stroke="#8a8a8a" stroke-width="0.9"/>
<polygon points="535.76,237.16 533.04,237.16 533.04,234.44 535.76,234.44" fill="#d0d0d0" stroke="#8a8a8a" stroke-width="0.9"/>
<polygon points="539.86,237.16 537.14,237.16 537.14,234.44 539.86,234.44" fill="#d0d0d0" stroke="#8a8a8a" stroke-width="0.9"/>
<polygon points="543.96,237.16 541.24,237.16 541.24,234.44 543.96,234.44" fill="#d0d0d0" stroke="#8a8a8a" stroke-width="0.9"/>
<polygon points="548.06,237.16 545.34,237.16 545.34,234.44 548.06,234.44" fill="#d0d0d0" stroke="#8a8a8a" stroke-width="0.9"/>
<polygon points="552.16,237.16 549.44,237.16 549.44,234.44 552.16,234.44" fill="#d0d0d0" stroke="#8a8a8a" stroke-width="0.9"/>
<polygon points="556.26,237.16 553.54,237.16 553.54,234.44 556.26,234.44" fill="#d0d0d0" stroke="#8a8a8a" stroke-width="0.9"/>
<polygon points="482.66,172.4 480.98,175.31 477.62,175.31 475.94,172.4 477.62,169.49 480.98,169.49" fill="#858585" stroke="#7a7a7a" stroke-width="0.8"/>
<line x1="477.51" y1="172.4" x2="481.09" y2="172.4" stroke="#d4d4d4" stroke-width="0.7"/>
<line x1="479.3" y1="170.61" x2="479.3" y2="174.19" stroke="#d4d4d4" stroke-width="0.7"/>
<polygon points="478.4,181.18 481.75,183.61 480.47,187.55 476.33,187.55 475.05,183.61" fill="#858585" stroke="#7a7a7a" stroke-width="0.8"/>
<line x1="476.61" y1="184.7" x2="480.19" y2="184.7" stroke="#d4d4d4" stroke-width="0.7"/>
<line x1="478.4" y1="182.91" x2="478.4" y2="186.49" stroke="#d4d4d4" stroke-width="0.7"/>
<circle cx="486.7" cy="199.4" r="3.2" fill="#858585" stroke="#7a7a7a" stroke-width="0.8"/>
<line x1="484.91" y1="199.4" x2="488.49" y2="199.4" stroke="#d4d4d4" stroke-width="0.7"/>
<line x1="486.7" y1="197.61" x2="486.7" y2="201.19" stroke="#d4d4d4" stroke-width="0.7"/>
<polygon points="486,202 482,206 478,202 482,198" fill="#858585" stroke="#7a7a7a" stroke-width="0.8"/>
<line x1="480.21" y1="202" x2="483.79" y2="202" stroke="#d4d4d4" stroke-width="0.7"/>
<line x1="482" y1="200.21" x2="482" y2="203.79" stroke="#d4d4d4" stroke-width="0.7"/>
<polygon points="481.52,211.02 476.08,211.02 476.08,205.58 481.52,205.58" fill="#858585" stroke="#7a7a7a" stroke-width="0.8"/>
<line x1="477.01" y1="208.3" x2="480.59" y2="208.3" stroke="#d4d4d4" stroke-width="0.7"/>
<line x1="478.8" y1="206.51" x2="478.8" y2="210.09" stroke="#d4d4d4" stroke-width="0.7"/>
<polygon points="487.21,209.98 484.3,211.66 481.39,209.98 481.39,206.62 484.3,204.94 487.21,206.62" fill="#858585" stroke="#7a7a7a" stroke-width="0.8"/>
<line x1="482.51" y1="208.3" x2="486.09" y2="208.3" stroke="#d4d4d4" stroke-width="0.7"/>
<line x1="484.3" y1="206.51" x2="484.3" y2="210.09" stroke="#d4d4d4" stroke-width="0.7"/>
<polygon points="481.3,209.68 484.65,212.11 483.37,216.05 479.23,216.05 477.95,212.11" fill="#858585" stroke="#7a7a7a" stroke-width="0.8"/>
<line x1="479.51" y1="213.2" x2="483.09" y2="213.2" stroke="#d4d4d4" stroke-width="0.7"/>
<line x1="481.3" y1="211.41" x2="481.3" y2="214.99" stroke="#d4d4d4" stroke-width="0.7"/>
<circle cx="489.2" cy="213.2" r="3.2" fill="#858585" stroke="#7a7a7a" stroke-width="0.8"/>
<line x1="487.41" y1="213.2" x2="490.99" y2="213.2" stroke="#d4d4d4" stroke-width="0.7"/>
<line x1="489.2" y1="211.41" x2="489.2" y2="214.99" stroke="#d4d4d4" stroke-width="0.7"/>
<polygon points="489.36,218 487.68,220.91 484.32,220.91 482.64,218 484.32,215.09 487.68,215.09" fill="#858585" stroke="#7a7a7a" stroke-width="0.8"/>
<line x1="484.21" y1="218" x2="487.79" y2="218" stroke="#d4d4d4" stroke-width="0.7"/>
<line x1="486" y1="216.21" x2="486" y2="219.79" stroke="#d4d4d4" stroke-width="0.7"/>
<polygon points="479.3,218.48 482.65,220.91 481.37,224.85 477.23,224.85 475.95,220.91" fill="#858585" stroke="#7a7a7a" stroke-width="0.8"/>
<line x1="477.51" y1="222" x2="481.09" y2="222" stroke="#d4d4d4" stroke-width="0.7"/>
<line x1="479.3" y1="220.21" x2="479.3" y2="223.79" stroke="#d4d4d4" stroke-width="0.7"/>
<circle cx="482.8" cy="225" r="3.2" fill="#858585" stroke="#7a7a7a" stroke-width="0.8"/>
<line x1="481.01" y1="225" x2="484.59" y2="225" stroke="#d4d4d4" stroke-width="0.7"/>
<line x1="482.8" y1="223.21" x2="482.8" y2="226.79" stroke="#d4d4d4" stroke-width="0.7"/>
<polygon points="493.2,231.4 489.2,235.4 485.2,231.4 489.2,227.4" fill="#858585" stroke="#7a7a7a" stroke-width="0.8"/>
<line x1="487.41" y1="231.4" x2="490.99" y2="231.4" stroke="#d4d4d4" stroke-width="0.7"/>
<line x1="489.2" y1="229.61" x2="489.2" y2="233.19" stroke="#d4d4d4" stroke-width="0.7"/>
<polygon points="494.32,236.52 488.88,236.52 488.88,231.08 494.32,231.08" fill="#858585" stroke="#7a7a7a" stroke-width="0.8"/>
<line x1="489.81" y1="233.8" x2="493.39" y2="233.8" stroke="#d4d4d4" stroke-width="0.7"/>
<line x1="491.6" y1="232.01" x2="491.6" y2="235.59" stroke="#d4d4d4" stroke-width="0.7"/>
<polygon points="480.81,238.48 477.9,240.16 474.99,238.48 474.99,235.12 477.9,233.44 480.81,235.12" fill="#858585" stroke="#7a7a7a" stroke-width="0.8"/>
<line x1="476.11" y1="236.8" x2="479.69" y2="236.8" stroke="#d4d4d4" stroke-width="0.7"/>
<line x1="477.9" y1="235.01" x2="477.9" y2="238.59" stroke="#d4d4d4" stroke-width="0.7"/>
<rect x="477.9" y="487.2" width="84.9" height="89.6" fill="#fff" stroke="#1a1a1a" stroke-width="1.3"/>
<line x1="477.9" y1="576.8" x2="477.9" y2="580.8" stroke="#1a1a1a" stroke-width="1.2"/>
<line x1="520.35" y1="576.8" x2="520.35" y2="580.8" stroke="#1a1a1a" stroke-width="1.2"/>
<line x1="562.8" y1="576.8" x2="562.8" y2="580.8" stroke="#1a1a1a" stroke-width="1.2"/>
<line x1="499.12" y1="576.8" x2="499.12" y2="579" stroke="#1a1a1a" stroke-width="1.2"/>
<line x1="541.57" y1="576.8" x2="541.57" y2="579" stroke="#1a1a1a" stroke-width="1.2"/>
<text x="477.9" y="592.9" font-size="11.5" text-anchor="middle" fill="#1a1a1a" font-weight="normal" font-family="'Liberation Sans', Arial, sans-serif" stroke="#1a1a1a" stroke-width="0.25">0</text>
<text x="520.35" y="592.9" font-size="11.5" text-anchor="middle" fill="#1a1a1a" font-weight="normal" font-family="'Liberation Sans', Arial, sans-serif" stroke="#1a1a1a" stroke-width="0.25">5</text>
<text x="562.8" y="592.9" font-size="11.5" text-anchor="middle" fill="#1a1a1a" font-weight="normal" font-family="'Liberation Sans', Arial, sans-serif" stroke="#1a1a1a" stroke-width="0.25">10</text>
<text x="478.4" y="604.9" font-size="11.5" text-anchor="start" fill="#1a1a1a" font-weight="normal" font-family="'Liberation Sans', Arial, sans-serif" textLength="85.4" lengthAdjust="spacingAndGlyphs" stroke="#1a1a1a" stroke-width="0.25">Pore Size (nm)</text>
<text transform="translate(472.4,530.3) rotate(-90)" x="0" y="0" font-size="11.5" fill="#1a1a1a" stroke="#1a1a1a" stroke-width="0.3" font-family="'Liberation Sans', Arial, sans-serif" text-anchor="middle">dV<tspan font-size="8" dy="3">p</tspan></text>
<polyline points="479.5,575 481.5,573 484.2,567.3 485.5,552 487,539.3 487.8,509.7" fill="none" stroke="#8c8c8c" stroke-width="1.4" stroke-linejoin="miter"/>
<polyline points="487.8,509.7 487.3,539.3 489.3,550 492.4,561.2 495.4,570.4 499,574.8 562,574.8" fill="none" stroke="#8c8c8c" stroke-width="1.4" stroke-linejoin="miter"/>
<polyline points="479,575 492,575" fill="none" stroke="#8c8c8c" stroke-width="1.4" stroke-linejoin="miter"/>
<polygon points="503.36,576.16 500.64,576.16 500.64,573.44 503.36,573.44" fill="#d0d0d0" stroke="#8a8a8a" stroke-width="0.9"/>
<polygon points="507.46,576.16 504.74,576.16 504.74,573.44 507.46,573.44" fill="#d0d0d0" stroke="#8a8a8a" stroke-width="0.9"/>
<polygon points="511.56,576.16 508.84,576.16 508.84,573.44 511.56,573.44" fill="#d0d0d0" stroke="#8a8a8a" stroke-width="0.9"/>
<polygon points="515.66,576.16 512.94,576.16 512.94,573.44 515.66,573.44" fill="#d0d0d0" stroke="#8a8a8a" stroke-width="0.9"/>
<polygon points="519.76,576.16 517.04,576.16 517.04,573.44 519.76,573.44" fill="#d0d0d0" stroke="#8a8a8a" stroke-width="0.9"/>
<polygon points="523.86,576.16 521.14,576.16 521.14,573.44 523.86,573.44" fill="#d0d0d0" stroke="#8a8a8a" stroke-width="0.9"/>
<polygon points="527.96,576.16 525.24,576.16 525.24,573.44 527.96,573.44" fill="#d0d0d0" stroke="#8a8a8a" stroke-width="0.9"/>
<polygon points="532.06,576.16 529.34,576.16 529.34,573.44 532.06,573.44" fill="#d0d0d0" stroke="#8a8a8a" stroke-width="0.9"/>
<polygon points="536.16,576.16 533.44,576.16 533.44,573.44 536.16,573.44" fill="#d0d0d0" stroke="#8a8a8a" stroke-width="0.9"/>
<polygon points="540.26,576.16 537.54,576.16 537.54,573.44 540.26,573.44" fill="#d0d0d0" stroke="#8a8a8a" stroke-width="0.9"/>
<polygon points="544.36,576.16 541.64,576.16 541.64,573.44 544.36,573.44" fill="#d0d0d0" stroke="#8a8a8a" stroke-width="0.9"/>
<polygon points="548.46,576.16 545.74,576.16 545.74,573.44 548.46,573.44" fill="#d0d0d0" stroke="#8a8a8a" stroke-width="0.9"/>
<polygon points="552.56,576.16 549.84,576.16 549.84,573.44 552.56,573.44" fill="#d0d0d0" stroke="#8a8a8a" stroke-width="0.9"/>
<polygon points="556.66,576.16 553.94,576.16 553.94,573.44 556.66,573.44" fill="#d0d0d0" stroke="#8a8a8a" stroke-width="0.9"/>
<polygon points="560.76,576.16 558.04,576.16 558.04,573.44 560.76,573.44" fill="#d0d0d0" stroke="#8a8a8a" stroke-width="0.9"/>
<polygon points="491.16,509.7 489.48,512.61 486.12,512.61 484.44,509.7 486.12,506.79 489.48,506.79" fill="#858585" stroke="#7a7a7a" stroke-width="0.8"/>
<line x1="486.01" y1="509.7" x2="489.59" y2="509.7" stroke="#d4d4d4" stroke-width="0.7"/>
<line x1="487.8" y1="507.91" x2="487.8" y2="511.49" stroke="#d4d4d4" stroke-width="0.7"/>
<polygon points="481.5,535.78 484.85,538.21 483.57,542.15 479.43,542.15 478.15,538.21" fill="#858585" stroke="#7a7a7a" stroke-width="0.8"/>
<line x1="479.71" y1="539.3" x2="483.29" y2="539.3" stroke="#d4d4d4" stroke-width="0.7"/>
<line x1="481.5" y1="537.51" x2="481.5" y2="541.09" stroke="#d4d4d4" stroke-width="0.7"/>
<circle cx="486.5" cy="539.3" r="3.2" fill="#858585" stroke="#7a7a7a" stroke-width="0.8"/>
<line x1="484.71" y1="539.3" x2="488.29" y2="539.3" stroke="#d4d4d4" stroke-width="0.7"/>
<line x1="486.5" y1="537.51" x2="486.5" y2="541.09" stroke="#d4d4d4" stroke-width="0.7"/>
<polygon points="495.5,539.3 491.5,543.3 487.5,539.3 491.5,535.3" fill="#858585" stroke="#7a7a7a" stroke-width="0.8"/>
<line x1="489.71" y1="539.3" x2="493.29" y2="539.3" stroke="#d4d4d4" stroke-width="0.7"/>
<line x1="491.5" y1="537.51" x2="491.5" y2="541.09" stroke="#d4d4d4" stroke-width="0.7"/>
<polygon points="492.02,552.72 486.58,552.72 486.58,547.28 492.02,547.28" fill="#858585" stroke="#7a7a7a" stroke-width="0.8"/>
<line x1="487.51" y1="550" x2="491.09" y2="550" stroke="#d4d4d4" stroke-width="0.7"/>
<line x1="489.3" y1="548.21" x2="489.3" y2="551.79" stroke="#d4d4d4" stroke-width="0.7"/>
<polygon points="488.41,553.68 485.5,555.36 482.59,553.68 482.59,550.32 485.5,548.64 488.41,550.32" fill="#858585" stroke="#7a7a7a" stroke-width="0.8"/>
<line x1="483.71" y1="552" x2="487.29" y2="552" stroke="#d4d4d4" stroke-width="0.7"/>
<line x1="485.5" y1="550.21" x2="485.5" y2="553.79" stroke="#d4d4d4" stroke-width="0.7"/>
<polygon points="490.3,552.08 493.65,554.51 492.37,558.45 488.23,558.45 486.95,554.51" fill="#858585" stroke="#7a7a7a" stroke-width="0.8"/>
<line x1="488.51" y1="555.6" x2="492.09" y2="555.6" stroke="#d4d4d4" stroke-width="0.7"/>
<line x1="490.3" y1="553.81" x2="490.3" y2="557.39" stroke="#d4d4d4" stroke-width="0.7"/>
<circle cx="485.2" cy="561.2" r="3.2" fill="#858585" stroke="#7a7a7a" stroke-width="0.8"/>
<line x1="483.41" y1="561.2" x2="486.99" y2="561.2" stroke="#d4d4d4" stroke-width="0.7"/>
<line x1="485.2" y1="559.41" x2="485.2" y2="562.99" stroke="#d4d4d4" stroke-width="0.7"/>
<polygon points="495.76,561.2 494.08,564.11 490.72,564.11 489.04,561.2 490.72,558.29 494.08,558.29" fill="#858585" stroke="#7a7a7a" stroke-width="0.8"/>
<line x1="490.61" y1="561.2" x2="494.19" y2="561.2" stroke="#d4d4d4" stroke-width="0.7"/>
<line x1="492.4" y1="559.41" x2="492.4" y2="562.99" stroke="#d4d4d4" stroke-width="0.7"/>
<polygon points="494.4,560.48 497.75,562.91 496.47,566.85 492.33,566.85 491.05,562.91" fill="#858585" stroke="#7a7a7a" stroke-width="0.8"/>
<line x1="492.61" y1="564" x2="496.19" y2="564" stroke="#d4d4d4" stroke-width="0.7"/>
<line x1="494.4" y1="562.21" x2="494.4" y2="565.79" stroke="#d4d4d4" stroke-width="0.7"/>
<circle cx="484.2" cy="567.3" r="3.2" fill="#858585" stroke="#7a7a7a" stroke-width="0.8"/>
<line x1="482.41" y1="567.3" x2="485.99" y2="567.3" stroke="#d4d4d4" stroke-width="0.7"/>
<line x1="484.2" y1="565.51" x2="484.2" y2="569.09" stroke="#d4d4d4" stroke-width="0.7"/>
<polygon points="493,567 489,571 485,567 489,563" fill="#858585" stroke="#7a7a7a" stroke-width="0.8"/>
<line x1="487.21" y1="567" x2="490.79" y2="567" stroke="#d4d4d4" stroke-width="0.7"/>
<line x1="489" y1="565.21" x2="489" y2="568.79" stroke="#d4d4d4" stroke-width="0.7"/>
<polygon points="498.12,573.12 492.68,573.12 492.68,567.68 498.12,567.68" fill="#858585" stroke="#7a7a7a" stroke-width="0.8"/>
<line x1="493.61" y1="570.4" x2="497.19" y2="570.4" stroke="#d4d4d4" stroke-width="0.7"/>
<line x1="495.4" y1="568.61" x2="495.4" y2="572.19" stroke="#d4d4d4" stroke-width="0.7"/>
<polygon points="482.41,576.68 479.5,578.36 476.59,576.68 476.59,573.32 479.5,571.64 482.41,573.32" fill="#858585" stroke="#7a7a7a" stroke-width="0.8"/>
<line x1="477.71" y1="575" x2="481.29" y2="575" stroke="#d4d4d4" stroke-width="0.7"/>
<line x1="479.5" y1="573.21" x2="479.5" y2="576.79" stroke="#d4d4d4" stroke-width="0.7"/>
<rect x="671.5" y="40.2" width="201" height="239.4" fill="none" stroke="#1a1a1a" stroke-width="1.3"/>
<line x1="716.4" y1="279.6" x2="716.4" y2="284.6" stroke="#1a1a1a" stroke-width="1.3"/>
<line x1="768.3" y1="279.6" x2="768.3" y2="284.6" stroke="#1a1a1a" stroke-width="1.3"/>
<line x1="820.2" y1="279.6" x2="820.2" y2="284.6" stroke="#1a1a1a" stroke-width="1.3"/>
<line x1="872.1" y1="279.6" x2="872.1" y2="284.6" stroke="#1a1a1a" stroke-width="1.3"/>
<line x1="690.45" y1="279.6" x2="690.45" y2="282.8" stroke="#1a1a1a" stroke-width="1.3"/>
<line x1="742.35" y1="279.6" x2="742.35" y2="282.8" stroke="#1a1a1a" stroke-width="1.3"/>
<line x1="794.25" y1="279.6" x2="794.25" y2="282.8" stroke="#1a1a1a" stroke-width="1.3"/>
<line x1="846.15" y1="279.6" x2="846.15" y2="282.8" stroke="#1a1a1a" stroke-width="1.3"/>
<text x="716.4" y="300.4" font-size="14" text-anchor="middle" fill="#1a1a1a" font-weight="normal" font-family="'Liberation Sans', Arial, sans-serif" textLength="16.96" lengthAdjust="spacingAndGlyphs">10</text>
<text x="768.3" y="300.4" font-size="14" text-anchor="middle" fill="#1a1a1a" font-weight="normal" font-family="'Liberation Sans', Arial, sans-serif" textLength="16.96" lengthAdjust="spacingAndGlyphs">20</text>
<text x="820.2" y="300.4" font-size="14" text-anchor="middle" fill="#1a1a1a" font-weight="normal" font-family="'Liberation Sans', Arial, sans-serif" textLength="16.96" lengthAdjust="spacingAndGlyphs">30</text>
<text x="872.1" y="300.4" font-size="14" text-anchor="middle" fill="#1a1a1a" font-weight="normal" font-family="'Liberation Sans', Arial, sans-serif" textLength="16.96" lengthAdjust="spacingAndGlyphs">40</text>
<text x="728.6" y="322.6" font-size="16" text-anchor="start" fill="#1a1a1a" font-weight="normal" font-family="'Liberation Sans', Arial, sans-serif" textLength="83.4" lengthAdjust="spacingAndGlyphs">2θ (degree)</text>
<polyline points="671.9,64.8 672.6,67.8 672.8,74.7 673.8,76.8 674.7,79.5 676.8,80.7 678.5,79.1 679.3,76.5 680,72.2 680.5,71 681,72.2 681.5,76 682.2,76.6 682.5,82.5 685.3,85.2 687.8,85.33 691.16,85.37 694.67,85.43 696.83,85.28 700.93,85.34 703.51,85.52 706.69,85.48 709.88,85.43 712.26,85.43 716.43,85.41 720.28,85.44 722.44,85.46 725.92,85.35 728,85.49 731.18,85.45 735.37,85.45 739.68,85.37 743.68,85.39 748.02,85.49 750.26,85.31 752.8,85.52 755.89,85.43 758.65,85.4 761.61,85.36 765.07,85.42 769.34,85.45 773.66,85.49 778.14,85.44 780.54,85.49 784.95,85.5 788.38,85.45 790.9,85.48 794.34,85.35 796.5,85.49 800.97,85.3 804.97,85.38 807.35,85.35 811.27,85.49 813.38,85.43 815.5,85.45 818.32,85.5 822.77,85.4 827.27,85.35 829.46,85.42 831.54,85.32 834.56,85.08 836.67,85.43 841.06,85.57 844.21,86.16 847.7,86.1 852.06,85.69 855.86,85.4 860.3,85.95 862.33,86.02 864.38,86.13 866.53,85.77 870.23,85.36 872.3,85.4" fill="none" stroke="#1e3b6c" stroke-width="1.35" stroke-linejoin="miter"/>
<text x="814.8" y="76.3" font-size="10.5" text-anchor="start" fill="#111" font-weight="bold" font-family="'Liberation Sans', Arial, sans-serif" textLength="45.6" lengthAdjust="spacingAndGlyphs">7M NaOH</text>
<polyline points="671.9,90.7 672.6,93.7 672.8,104 673.8,105.86 674.7,108.1 676.8,109.3 678.5,107.7 679.3,104 680,99.9 680.5,98.7 681,99.9 681.5,103.5 682.2,104.1 682.5,112 685.3,115.4 690,115.6 697,115.6 698.8,114.3 700.3,115.9 702.8,116.06 704.86,115.89 708.55,116.12 711.17,115.99 714.65,116.14 717.44,116.65 720.19,115.97 724.12,115.88 727.54,116.06 730.32,115.93 734.33,115.93 736.79,115.98 740.54,115.9 743.34,115.96 747.43,115.98 751.57,115.92 754.41,116.04 758.62,115.99 761.18,115.91 764.51,115.92 768.52,116.08 770.98,115.94 775,116.04 779.02,115.96 781.34,115.95 785.33,115.94 788.19,115.98 791.24,115.98 795.54,115.91 797.55,116.11 801.75,116.12 804.84,116.11 809.16,115.93 813.02,116.08 816.68,116 819.4,115.96 821.97,115.89 825.44,115.95 829.47,115.89 833.73,116.05 838.04,116.1 842.29,116.02 844.32,116.06 846.75,115.95 850.41,116.01 853.44,116.11 856.97,115.96 859.6,116.09 862.8,116.07 865.68,115.92 869.01,116.08 871.44,116.07 872.3,116" fill="none" stroke="#2a5b9c" stroke-width="1.35" stroke-linejoin="miter"/>
<text x="820.6" y="106.8" font-size="10.5" text-anchor="start" fill="#111" font-weight="bold" font-family="'Liberation Sans', Arial, sans-serif" textLength="35.4" lengthAdjust="spacingAndGlyphs">6M HCl</text>
<polyline points="671.9,124.8 672.6,127.8 672.8,134.3 673.8,136.05 674.7,138.1 676.8,139.3 678.5,137.7 679.3,132.5 680,127.8 680.5,126.6 681,127.8 681.5,132 682.2,132.6 682.5,143.3 685.3,145.3 689.2,146.6 693.5,146.8 696.6,145.3 698.8,147.4 701.3,149.05 703.32,149.14 705.44,147.83 708.76,148.28 712.7,147.78 714.84,147.81 717.15,147.79 721.59,147.99 723.8,147.9 726.59,147.85 729.47,147.94 732.94,147.87 735.42,147.51 738.8,148.08 741,148.06 744.52,148.08 748.52,148.19 751.45,148.79 754.5,148.25 757.11,148.77 759.29,148.18 763.49,148.06 767.74,147.82 770.9,149.03 774.55,148.98 778.22,147.96 781.63,147.8 785.1,147.78 787.46,147.97 789.57,147.8 791.82,148 794.27,147.78 798.37,147.81 802.48,147.94 806.57,148.01 810.02,147.97 812.11,147.97 815.39,147.95 817.65,147.96 821.99,147.79 824.8,147.92 828.87,147.84 831.32,147.84 834.86,147.96 837.84,147.87 840.84,147.86 843.88,147.8 847.13,148.02 850.16,147.96 852.57,147.95 856.46,147.94 859.75,147.9 863.36,148 865.73,147.8 869.6,148 872.3,147.9" fill="none" stroke="#2f66aa" stroke-width="1.35" stroke-linejoin="miter"/>
<text x="805.7" y="137.6" font-size="10.5" text-anchor="start" fill="#111" font-weight="bold" font-family="'Liberation Sans', Arial, sans-serif" textLength="63.9" lengthAdjust="spacingAndGlyphs">H<tspan font-size="7" dy="2.5">2</tspan><tspan dy="-2.5">O with light</tspan></text>
<polyline points="671.9,152.6 672.6,155.6 672.8,164.5 673.8,166.53 674.7,169.1 676.8,170.3 678.5,168.7 679.3,164 680,159.6 680.5,158.4 681,159.6 681.5,163.5 682.2,164.1 682.5,173.5 685.3,176.2 689.5,177.3 694.5,177.3 697,175.6 699,178.2 701.5,178.69 705.3,178.62 707.97,178.62 711.43,178.65 714.01,178.75 718.39,178.65 722.16,178.68 726.29,178.72 728.96,178.63 731.02,178.69 733.97,178.62 736.88,178.66 740.81,178.61 745.29,178.69 748.79,178.69 752.87,178.78 756.27,178.7 760.07,178.79 763.07,178.76 767.47,178.69 770.04,178.63 773.84,178.74 778.23,178.79 780.84,178.62 783.49,178.62 787.25,178.79 791.5,178.64 795.66,178.65 798.72,178.76 800.93,178.6 805.02,178.65 807.91,178.72 811.6,178.58 814.43,178.68 817.65,178.63 821.11,178.81 824.09,178.71 826.39,178.64 830.05,178.6 834.27,178.8 836.51,178.81 839.45,178.77 843.34,179.53 846.98,178.62 850.86,179.52 854.2,179.13 857.08,179.53 860.5,179.46 864.07,180 867.71,180.09 870.07,179.63 872.3,178.7" fill="none" stroke="#3a7dbd" stroke-width="1.35" stroke-linejoin="miter"/>
<text x="823.6" y="171" font-size="10.5" text-anchor="start" fill="#111" font-weight="bold" font-family="'Liberation Sans', Arial, sans-serif" textLength="29.3" lengthAdjust="spacingAndGlyphs">MeOH</text>
<polyline points="671.9,184.7 672.6,187.7 672.8,197.9 673.8,199.47 674.7,201.2 676.8,202.4 678.5,200.8 679.3,195.8 680,191.4 680.5,190.2 681,191.4 681.5,195.3 682.2,195.9 682.5,204.2 685.3,207.2 687.1,208.1 693.5,208.3 696.5,207.2 698.5,209.5 701,209.91 704.62,209.89 707.4,209.82 709.57,209.95 713.46,209.91 717.31,209.86 719.97,209.87 724.15,209.79 727.41,209.84 731.34,209.86 734.17,209.88 737.52,209.97 740.4,209.99 742.69,209.84 744.93,209.8 748.88,209.96 751.34,209.82 754.39,209.96 758.42,209.96 761.9,209.81 764.9,209.82 768.22,209.92 770.72,209.84 774.68,209.78 778.69,210 783.06,210.46 786.52,211.39 790.23,209.85 794.38,209.9 797.89,209.96 799.89,209.97 803.55,209.9 806.86,209.89 809.34,209.91 811.43,209.9 815.05,209.89 818.46,210.01 822.69,209.81 826.67,209.93 828.8,209.86 831.38,209.79 834.73,210.01 837.54,209.99 841.28,209.81 845.42,209.93 849.74,209.95 853.59,209.86 857.61,210.01 861.76,209.88 865.65,209.9 867.92,209.79 870.12,209.83 872.3,209.9" fill="none" stroke="#86b1d8" stroke-width="1.35" stroke-linejoin="miter"/>
<text x="830.1" y="198.6" font-size="10.5" text-anchor="start" fill="#111" font-weight="bold" font-family="'Liberation Sans', Arial, sans-serif" textLength="20.1" lengthAdjust="spacingAndGlyphs">THF</text>
<polyline points="671.9,224.2 672.6,227.2 672.8,232.3 673.8,233.21 674.7,233.7 676.8,234.9 678.5,233.3 679.3,229 680,222.7 680.5,221.5 681,222.7 681.5,228.5 682.2,229.1 682.5,236.1 685.3,237.8 688,239.3 693.5,239.6 696.5,238.5 698.5,240.6 701,241.78 704.34,241.67 707.11,241.91 710.11,242.22 713.91,241.06 717.23,240.73 719.24,241.96 721.6,240.67 724.12,241.13 726.54,240.48 728.96,240.37 731.02,241.14 734.78,241.13 737.77,242.36 740.31,241.28 742.73,241 745.04,241.84 747.72,241.26 752.06,240.79 754.72,241.62 757.58,241.74 762.01,240.92 764.02,240.78 766.24,240.82 768.33,240.79 771.97,241 774.47,241.02 777.66,240.98 781.96,241.01 784.04,240.85 787.56,241.01 789.78,240.85 793.9,240.8 796.88,241.74 801.2,241.87 805.03,241.46 809.34,241.15 811.92,240.97 815.12,240.84 817.54,240.96 821.06,240.95 824.02,240.9 826.41,240.95 828.47,240.89 832.36,240.94 834.6,240.83 838.71,240.94 842.91,240.99 846.03,241 849.87,240.86 852.79,240.79 855.79,241.01 858.05,240.92 860.33,240.8 863.95,240.84 866.07,240.81 869.68,240.92 871.71,240.83 872.3,240.9" fill="none" stroke="#8cb7dc" stroke-width="1.35" stroke-linejoin="miter"/>
<text x="829.5" y="227" font-size="10.5" text-anchor="start" fill="#111" font-weight="bold" font-family="'Liberation Sans', Arial, sans-serif" textLength="20.7" lengthAdjust="spacingAndGlyphs">DMF</text>
<polyline points="671.9,248.4 672.6,251.4 672.8,261.6 673.8,262.75 674.7,263.7 676.8,264.9 678.5,263.3 679.3,257 680,250.1 680.5,248.9 681,250.1 681.5,256.5 682.2,257.1 682.5,268 685.3,269.7 690,271.2 694.5,271.2 697,268.6 700,271.6 702.5,272.13 705.91,272.18 709.86,272.23 713.83,272.21 716.3,272.12 718.5,272.28 720.78,272.08 725.2,272.12 729.43,272.1 732.59,272.13 736.67,272.23 740.27,272.27 744.45,272.16 747.96,271.78 752.05,273.33 754.56,272.56 758.38,272.3 761.59,272.76 765.43,272.97 768.95,272.31 773.43,272.49 775.65,271.9 779.97,273.46 784.44,273.59 787.78,273.63 792.04,272.31 795.25,272.27 798.26,272.32 802.56,272.15 806.9,272.12 809.14,272.26 811.88,272.2 815.47,272.09 819.34,272.14 822.42,272.16 826.27,272.26 828.99,272.1 831.74,272.18 833.93,272.11 837.84,272.25 842.28,272.32 846.47,272.17 848.88,272.15 852.03,272.21 855.39,272.16 859.52,272.15 862.68,272.3 866.7,272.15 869.3,272.28 871.33,272.11 872.3,272.2" fill="none" stroke="#bcd5ec" stroke-width="1.35" stroke-linejoin="miter"/>
<text x="822.3" y="260.7" font-size="10.5" text-anchor="start" fill="#111" font-weight="bold" font-family="'Liberation Sans', Arial, sans-serif" textLength="33.4" lengthAdjust="spacingAndGlyphs">pristine</text>
<defs><linearGradient id="bar" x1="0" y1="0" x2="0" y2="1"><stop offset="0" stop-color="#c4c4c4"/><stop offset="0.12" stop-color="#b4b4b4"/><stop offset="0.45" stop-color="#d9d9d9"/><stop offset="0.62" stop-color="#d5d5d5"/><stop offset="0.88" stop-color="#b3b3b3"/><stop offset="1" stop-color="#c6c6c6"/></linearGradient></defs>
<rect x="670.3" y="397.8" width="166.08" height="18.2" fill="url(#bar)"/>
<text x="680.7" y="410.7" font-size="10.5" text-anchor="start" fill="#1c72b5" font-weight="bold" font-family="'Liberation Sans', Arial, sans-serif" textLength="46.2" lengthAdjust="spacingAndGlyphs">7M NaOH</text>
<text x="851.6" y="411" font-size="13" text-anchor="start" fill="#1a1a1a" font-weight="normal" font-family="'Liberation Sans', Arial, sans-serif" textLength="14.2" lengthAdjust="spacingAndGlyphs" stroke="#1a1a1a" stroke-width="0.25">91</text>
<rect x="670.3" y="427.77" width="167.9" height="18.2" fill="url(#bar)"/>
<text x="687" y="440.67" font-size="10.5" text-anchor="start" fill="#1c72b5" font-weight="bold" font-family="'Liberation Sans', Arial, sans-serif" textLength="33.5" lengthAdjust="spacingAndGlyphs">6M HCl</text>
<text x="851.6" y="440.3" font-size="13" text-anchor="start" fill="#1a1a1a" font-weight="normal" font-family="'Liberation Sans', Arial, sans-serif" textLength="14.2" lengthAdjust="spacingAndGlyphs" stroke="#1a1a1a" stroke-width="0.25">92</text>
<rect x="670.3" y="457.74" width="175.2" height="18.2" fill="url(#bar)"/>
<text x="690.2" y="470.64" font-size="10.5" text-anchor="start" fill="#1c72b5" font-weight="bold" font-family="'Liberation Sans', Arial, sans-serif" textLength="69.4" lengthAdjust="spacingAndGlyphs">H<tspan font-size="7" dy="2.5">2</tspan><tspan dy="-2.5">O with light</tspan></text>
<text x="851.6" y="468.7" font-size="13" text-anchor="start" fill="#1a1a1a" font-weight="normal" font-family="'Liberation Sans', Arial, sans-serif" textLength="14.2" lengthAdjust="spacingAndGlyphs" stroke="#1a1a1a" stroke-width="0.25">96</text>
<rect x="670.3" y="487.71" width="173.38" height="18.2" fill="url(#bar)"/>
<text x="689" y="500.61" font-size="10.5" text-anchor="start" fill="#1c72b5" font-weight="bold" font-family="'Liberation Sans', Arial, sans-serif" textLength="29" lengthAdjust="spacingAndGlyphs">MeOH</text>
<text x="851.6" y="501.4" font-size="13" text-anchor="start" fill="#1a1a1a" font-weight="normal" font-family="'Liberation Sans', Arial, sans-serif" textLength="14.2" lengthAdjust="spacingAndGlyphs" stroke="#1a1a1a" stroke-width="0.25">95</text>
<rect x="670.3" y="517.68" width="177.02" height="18.2" fill="url(#bar)"/>
<text x="695.1" y="530.58" font-size="10.5" text-anchor="start" fill="#1c72b5" font-weight="bold" font-family="'Liberation Sans', Arial, sans-serif" textLength="19.9" lengthAdjust="spacingAndGlyphs">THF</text>
<text x="851.6" y="530.8" font-size="13" text-anchor="start" fill="#1a1a1a" font-weight="normal" font-family="'Liberation Sans', Arial, sans-serif" textLength="14.2" lengthAdjust="spacingAndGlyphs" stroke="#1a1a1a" stroke-width="0.25">97</text>
<rect x="670.3" y="547.65" width="175.2" height="18.2" fill="url(#bar)"/>
<text x="695.1" y="560.55" font-size="10.5" text-anchor="start" fill="#1c72b5" font-weight="bold" font-family="'Liberation Sans', Arial, sans-serif" textLength="20.9" lengthAdjust="spacingAndGlyphs">DMF</text>
<text x="851.6" y="560.4" font-size="13" text-anchor="start" fill="#1a1a1a" font-weight="normal" font-family="'Liberation Sans', Arial, sans-serif" textLength="14.2" lengthAdjust="spacingAndGlyphs" stroke="#1a1a1a" stroke-width="0.25">96</text>
<rect x="670.3" y="577.62" width="182.5" height="18.2" fill="url(#bar)"/>
<text x="689.4" y="590.52" font-size="10.5" text-anchor="start" fill="#1c72b5" font-weight="bold" font-family="'Liberation Sans', Arial, sans-serif" textLength="35.8" lengthAdjust="spacingAndGlyphs">Pristine</text>
<text x="851" y="589.5" font-size="13" text-anchor="start" fill="#1a1a1a" font-weight="normal" font-family="'Liberation Sans', Arial, sans-serif" textLength="18.3" lengthAdjust="spacingAndGlyphs" stroke="#1a1a1a" stroke-width="0.25">100</text>
<rect x="670.3" y="378.1" width="201" height="238.5" fill="none" stroke="#1a1a1a" stroke-width="1.3"/>
<line x1="670.3" y1="616.6" x2="670.3" y2="621.6" stroke="#1a1a1a" stroke-width="1.3"/>
<line x1="706.8" y1="616.6" x2="706.8" y2="621.6" stroke="#1a1a1a" stroke-width="1.3"/>
<line x1="743.3" y1="616.6" x2="743.3" y2="621.6" stroke="#1a1a1a" stroke-width="1.3"/>
<line x1="779.8" y1="616.6" x2="779.8" y2="621.6" stroke="#1a1a1a" stroke-width="1.3"/>
<line x1="816.3" y1="616.6" x2="816.3" y2="621.6" stroke="#1a1a1a" stroke-width="1.3"/>
<line x1="852.8" y1="616.6" x2="852.8" y2="621.6" stroke="#1a1a1a" stroke-width="1.3"/>
<line x1="688.55" y1="616.6" x2="688.55" y2="620" stroke="#1a1a1a" stroke-width="1.3"/>
<line x1="725.05" y1="616.6" x2="725.05" y2="620" stroke="#1a1a1a" stroke-width="1.3"/>
<line x1="761.55" y1="616.6" x2="761.55" y2="620" stroke="#1a1a1a" stroke-width="1.3"/>
<line x1="798.05" y1="616.6" x2="798.05" y2="620" stroke="#1a1a1a" stroke-width="1.3"/>
<line x1="834.55" y1="616.6" x2="834.55" y2="620" stroke="#1a1a1a" stroke-width="1.3"/>
<line x1="871.05" y1="616.6" x2="871.05" y2="620" stroke="#1a1a1a" stroke-width="1.3"/>
<text x="670.3" y="636.4" font-size="14" text-anchor="middle" fill="#1a1a1a" font-weight="normal" font-family="'Liberation Sans', Arial, sans-serif" textLength="8.48" lengthAdjust="spacingAndGlyphs">0</text>
<text x="706.8" y="636.4" font-size="14" text-anchor="middle" fill="#1a1a1a" font-weight="normal" font-family="'Liberation Sans', Arial, sans-serif" textLength="16.96" lengthAdjust="spacingAndGlyphs">20</text>
<text x="743.3" y="636.4" font-size="14" text-anchor="middle" fill="#1a1a1a" font-weight="normal" font-family="'Liberation Sans', Arial, sans-serif" textLength="16.96" lengthAdjust="spacingAndGlyphs">40</text>
<text x="779.8" y="636.4" font-size="14" text-anchor="middle" fill="#1a1a1a" font-weight="normal" font-family="'Liberation Sans', Arial, sans-serif" textLength="16.96" lengthAdjust="spacingAndGlyphs">60</text>
<text x="816.3" y="636.4" font-size="14" text-anchor="middle" fill="#1a1a1a" font-weight="normal" font-family="'Liberation Sans', Arial, sans-serif" textLength="16.96" lengthAdjust="spacingAndGlyphs">80</text>
<text x="852.8" y="636.4" font-size="14" text-anchor="middle" fill="#1a1a1a" font-weight="normal" font-family="'Liberation Sans', Arial, sans-serif" textLength="25.44" lengthAdjust="spacingAndGlyphs">100</text>
<text x="687" y="660.2" font-size="16" text-anchor="start" fill="#1a1a1a" font-weight="normal" font-family="'Liberation Sans', Arial, sans-serif" textLength="165.8" lengthAdjust="spacingAndGlyphs">Residual Weight (wt%)</text>
<text x="306.6" y="741.7" font-size="22.5" font-weight="300" fill="#1a1a1a" font-family="'Liberation Serif', 'Noto Serif CJK SC', serif">图</text>
<text x="330.6" y="742" font-size="24.3" fill="#222" font-family="'Liberation Serif', 'Noto Serif CJK SC', serif">3.</text>
<text x="357.0" y="742" font-size="24.3" fill="#222" font-family="'Liberation Serif', 'Noto Serif CJK SC', serif" textLength="110.5" lengthAdjust="spacing">COF-JLUs</text>
<text x="470.0" y="741.7" font-size="22.5" font-weight="300" fill="#1a1a1a" font-family="'Liberation Serif', 'Noto Serif CJK SC', serif" letter-spacing="2.06">的基础结构表征</text></svg>
</body></html>
